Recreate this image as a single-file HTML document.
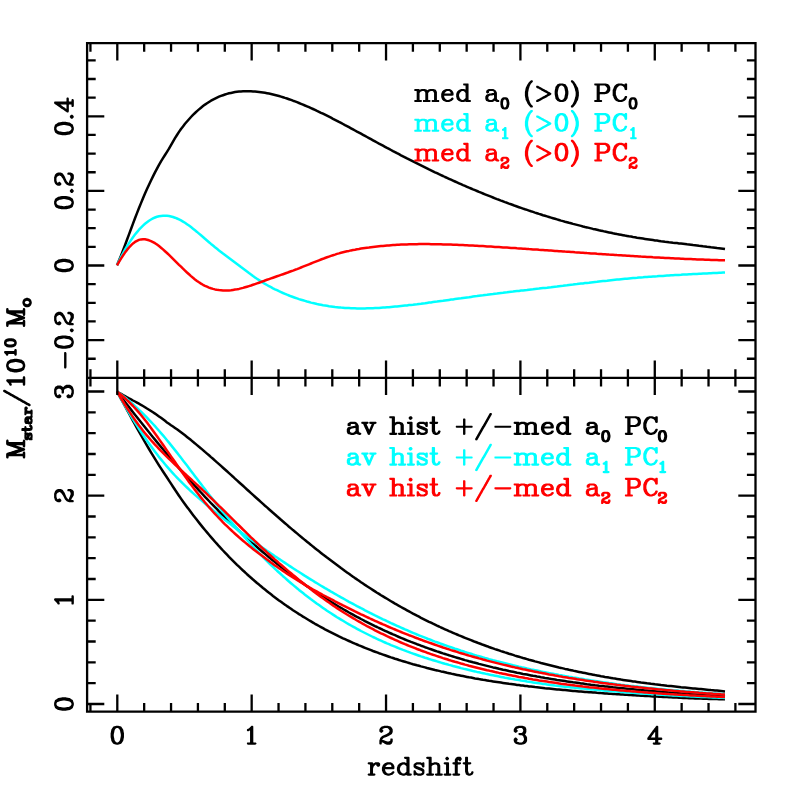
<!DOCTYPE html>
<html><head><meta charset="utf-8"><title>chart</title>
<style>html,body{margin:0;padding:0;background:#fff;font-family:"Liberation Sans",sans-serif}svg{display:block}</style>
</head><body>
<svg width="797" height="797" viewBox="0 0 797 797">
<rect width="797" height="797" fill="#fff"/>
<defs><path id="t0" d="M72.62,-10.25 72.50,-10 72.50,-8.25 72.75,-7.88 73.38,-7.75 73.50,-7.62 74.25,-7.62 74.38,-7.75 75,-7.88 75.38,-8.50 75.38,-9.50 75.88,-9.88 78.88,-9.88 79.88,-9.38 80.38,-8.88 80.38,-8.50 79.75,-8 79.12,-8 79,-7.88 78.38,-7.88 78.25,-7.75 77.62,-7.75 77.50,-7.62 75.38,-7.38 75.25,-7.25 73.12,-6.62 72.50,-6.12 72,-5 71.62,-4.50 71.62,-1.88 72.50,-0.12 72.75,0.12 74.75,0.75 74.88,0.88 75.12,0.88 75.25,1 75.62,1 75.75,1.12 78.38,1.12 78.50,1 78.88,1 80.38,0.25 80.88,-0.25 81.12,-0.25 81.38,0.12 83.12,1 83.50,1 83.62,1.12 84.50,1.12 84.62,1 85,1 85.38,0.75 85.62,0.25 85.62,-0.25 85.38,-0.75 85,-1 84.38,-1 83.75,-1.62 83.25,-2.62 83.25,-8.25 82.25,-10.25 81.38,-11.12 79.62,-12 75.12,-12 73.62,-11.25ZM80.38,-5.62 80.38,-3 78.88,-1.50 77.88,-1 76.25,-1 75.25,-1.50 75,-1.75 74.62,-2.50 74.62,-3.75 75,-4.50 75.38,-4.88 76.62,-5.38 77.25,-5.38 77.38,-5.50 78,-5.50 78.12,-5.62 78.75,-5.62 78.88,-5.75 79.50,-5.75 79.62,-5.88 80.12,-5.88ZM32.38,-12 30,-11.12 28.38,-9.50 27.50,-7.12 27.50,-4 28.38,-1.62 29.88,-0.12 30,0.12 32,0.75 32.12,0.88 32.38,0.88 32.50,1 32.88,1 33,1.12 34.88,1.12 35,1 35.38,1 35.50,0.88 35.75,0.88 35.88,0.75 37.88,0.12 39.62,-1.62 39.88,-2.12 39.88,-2.62 39.62,-3.12 39.25,-3.38 38.25,-3.38 38,-3.25 36.50,-1.75 34.50,-1.12 34.38,-1 33.62,-1 32.38,-1.62 31,-3 30.38,-5 30.62,-5.25 38.75,-5.25 38.88,-5.38 39.25,-5.38 39.62,-5.62 39.88,-6.12 39.88,-8.12 38.88,-10.12 37.88,-11.12 36.12,-12ZM30.88,-7.88 32.50,-9.50 33.25,-9.88 35.38,-9.88 36.12,-9.50 36.50,-9.12 36.88,-8.38 36.88,-7.62 36.62,-7.38 31,-7.38 30.88,-7.50ZM0.75,-11.75 0.62,-11.50 0.62,-10.50 0.88,-10.12 1.50,-10 1.62,-9.88 2.75,-9.88 3,-9.62 3,-1.25 2.75,-1 1.12,-1 0.75,-0.75 0.62,-0.50 0.62,0.50 0.75,0.75 1.12,1 1.50,1 1.62,1.12 7.12,1.12 7.25,1 7.62,1 8,0.75 8.25,0.25 8.25,-0.25 7.88,-0.88 7.62,-1 6.12,-1 5.88,-1.25 5.88,-8.12 7.12,-9.38 7.38,-9.38 8.62,-9.88 10.12,-9.88 10.88,-9.50 11.12,-9.25 11.62,-8.25 11.62,-1.25 11.38,-1 9.75,-1 9.50,-0.88 9.25,-0.50 9.25,0.50 9.50,0.88 10.12,1 10.25,1.12 15.75,1.12 15.88,1 16.25,1 16.62,0.75 16.88,0.25 16.88,-0.25 16.50,-0.88 16.25,-1 14.75,-1 14.50,-1.25 14.50,-8.12 15.75,-9.38 16,-9.38 17.25,-9.88 18.88,-9.88 19.62,-9.50 20.38,-8.12 20.38,-1.25 20.12,-1 18.50,-1 18.25,-0.88 18,-0.50 18,0.50 18.12,0.75 18.50,1 18.88,1 19,1.12 24.50,1.12 24.62,1 25.25,0.88 25.62,0.25 25.62,-0.25 25.25,-0.88 25,-1 23.50,-1 23.25,-1.25 23.25,-9 22.25,-11 21.62,-11.38 21.38,-11.38 19.75,-12 16.62,-12 16.50,-11.88 14.75,-11.38 13.75,-10.75 13.38,-11.12 12.88,-11.38 12.62,-11.38 11,-12 8,-12 6,-11.25 5.62,-11.75 5.25,-12 1.12,-12ZM50,-17.62 49.75,-17.50 49.50,-17.12 49.50,-16.12 49.62,-15.88 50,-15.62 50.38,-15.62 50.50,-15.50 51.62,-15.50 51.88,-15.25 51.88,-11.50 51.75,-11.38 51.50,-11.38 50.38,-12 47.50,-12 45.12,-11.12 43.62,-9.62 43.38,-9.50 42.50,-7.12 42.50,-4 42.62,-3.88 43.12,-2.12 43.38,-1.62 45.12,0.12 47.12,0.75 47.25,0.88 47.50,0.88 47.62,1 48,1 48.12,1.12 49.88,1.12 50,1 50.38,1 51.50,0.38 51.75,0.38 52.12,0.88 52.75,1 52.88,1.12 56.12,1.12 56.25,1 56.62,1 57,0.75 57.25,0.25 57.25,-0.25 57,-0.75 56.62,-1 55.12,-1 54.88,-1.25 54.88,-16.88 54.62,-17.38 54.25,-17.62ZM48.25,-9.88 49.62,-9.88 50.62,-9.38 51.88,-8.12 51.88,-3 50.38,-1.50 49.38,-1 48.62,-1 47.38,-1.62 46,-3 46,-3.25 45.38,-4.88 45.38,-6.25 45.50,-6.38 46,-8 47.50,-9.50Z"/><path id="t1" d="M3.75,-11.25 2.38,-10.75 1.88,-10.25 0.88,-8.75 0.88,-8.25 0.75,-8.12 0.75,-7.62 0.62,-7.50 0.62,-7 0.50,-6.88 0.50,-3.50 0.62,-3.38 0.88,-1.62 1.88,0 2.25,0.38 4.25,1.12 5.50,1.12 5.62,1 6,1 7.62,0.38 8.75,-1.25 9,-1.75 9.12,-2.75 9.25,-2.88 9.25,-3.38 9.38,-3.50 9.38,-4 9.50,-4.12 9.50,-6.12 9.38,-6.25 9.38,-6.75 9.25,-6.88 9,-8.62 7.88,-10.38 7.50,-10.75 6.12,-11.25ZM4.50,-9.12 5.25,-9.12 6,-8.50 6.50,-7.38 6.50,-6.88 6.62,-6.75 6.62,-6.25 6.75,-6.12 6.75,-5.62 6.88,-5.50 6.88,-4.88 6.75,-4.75 6.75,-4.25 6.62,-4.12 6.62,-3.62 6.50,-3.50 6.38,-2.50 6,-1.75 5.50,-1.25 5,-1 4.50,-1.12 3.75,-1.88 3.50,-2.38 3.38,-3.38 3.25,-3.50 3.25,-4 3.12,-4.12 3.12,-6.12 3.25,-6.25 3.25,-6.75 3.38,-6.88 3.50,-7.88 3.88,-8.62Z"/><path id="t2" d="M13.50,-15 13.38,-14.75 13.38,-13.75 13.75,-13.25 14.88,-12.62 15.12,-12.62 15.38,-12.38 16.25,-12 16.50,-11.75 18.25,-10.88 18.50,-10.62 20.25,-9.75 20.50,-9.50 22.38,-8.62 23.50,-7.88 24.38,-7.50 24.75,-7.12 24.62,-6.88 24,-6.62 22.88,-5.88 22,-5.50 21.50,-5.12 21,-5 20.75,-4.75 19.88,-4.38 19.62,-4.12 17.88,-3.25 17.62,-3 15.88,-2.12 15.62,-1.88 13.75,-1 13.38,-0.50 13.38,0.50 13.62,0.88 14.25,1 14.38,1.12 15.12,1 18.50,-0.75 18.75,-1 20.50,-1.88 21.62,-2.62 24.62,-4.12 24.88,-4.38 26.62,-5.25 26.88,-5.50 27.50,-5.75 28.38,-6.38 28.62,-6.88 28.62,-7.38 28.12,-8.12 27.25,-8.50 27,-8.75 25.25,-9.62 24.12,-10.38 23.25,-10.75 22.75,-11.12 22.25,-11.25 22,-11.50 21.12,-11.88 20.88,-12.12 19.12,-13 18,-13.75 17.12,-14.12 16.62,-14.50 16.12,-14.62 15.88,-14.88 15.12,-15.25 13.88,-15.25ZM103.75,-17.62 102.50,-17.62 102.12,-17.38 101.75,-16.62 99,-17.62 96,-17.62 95.88,-17.50 95.62,-17.50 95.50,-17.38 93.50,-16.75 91.62,-14.88 90.75,-13.12 90.38,-11.75 90.12,-11.50 89.88,-10.88 89.88,-5.75 90.12,-5.12 90.38,-4.88 90.75,-3.50 91.62,-1.75 93.25,-0.12 93.38,0.12 95.38,0.75 95.50,0.88 95.75,0.88 95.88,1 96.25,1 96.38,1.12 98.62,1.12 98.75,1 99.12,1 99.25,0.88 99.50,0.88 99.62,0.75 101.62,0.12 103.38,-1.62 103.62,-2.12 103.62,-2.38 104.38,-3.75 104.38,-4.25 104.12,-4.75 103.75,-5 102.50,-5 102,-4.62 101.25,-3 100,-1.75 99.75,-1.62 99.50,-1.62 97.88,-1 97.25,-1 96,-1.62 94.50,-3.12 93.88,-4.38 93.88,-4.62 93.12,-6.62 93.12,-10 93.25,-10.12 93.88,-12.25 94.38,-13.25 96.12,-15 97.12,-15.50 98.12,-15.50 98.25,-15.38 99.88,-14.88 101.38,-13.38 101.88,-11.62 102.25,-11 102.88,-10.88 103,-10.75 104,-11 104.38,-11.62 104.38,-16.88 104.12,-17.38ZM72,-17.62 71.75,-17.50 71.50,-17.12 71.50,-16.12 71.62,-15.88 72,-15.62 72.38,-15.62 72.50,-15.50 73.62,-15.50 73.88,-15.25 73.88,-1.25 73.62,-1 72,-1 71.75,-0.88 71.50,-0.50 71.50,0.50 71.75,0.88 72.38,1 72.50,1.12 78.25,1.12 78.38,1 78.75,1 79.12,0.75 79.38,0.25 79.38,-0.25 79.12,-0.75 78.75,-1 77.25,-1 77,-1.25 77,-6.50 77.25,-6.75 82.38,-6.75 82.50,-6.88 82.88,-6.88 83,-7 83.25,-7 83.38,-7.12 85.38,-7.75 86.62,-8.88 87.50,-10.62 87.50,-13.75 86.50,-15.75 86,-16.25 85.12,-16.88 84.88,-16.88 82.88,-17.62ZM77,-15.25 77.25,-15.50 81.88,-15.50 82.62,-15.12 83.75,-14 83.88,-13.62 84.38,-13 84.38,-11.50 83.88,-10.88 83.62,-10.25 83,-9.62 81.62,-8.88 77.25,-8.88 77,-9.12ZM37.25,-17.62 37.12,-17.50 36.88,-17.50 36.75,-17.38 34.75,-16.75 34.38,-16.38 33.88,-15.50 33.50,-15.25 32.62,-13.88 32.62,-13.38 32.50,-13.25 32.50,-12.75 32.38,-12.62 32.38,-12.12 32.25,-12 32.25,-11.50 32.12,-11.38 32.12,-10.88 32,-10.75 32,-10.25 31.88,-10.12 31.88,-6.50 32,-6.38 32,-5.88 32.12,-5.75 32.12,-5.25 32.25,-5.12 32.25,-4.62 32.38,-4.50 32.38,-4 32.50,-3.88 32.50,-3.38 32.62,-3.25 32.62,-2.62 33.50,-1.25 33.88,-1 34.62,0.12 36.62,0.75 36.75,0.88 37,0.88 37.12,1 37.50,1 37.62,1.12 39.75,1.12 39.88,1 40.25,1 40.38,0.88 42.88,0.12 44.50,-2.25 44.88,-3.12 44.88,-3.62 45,-3.75 45,-4.25 45.12,-4.38 45.12,-4.88 45.25,-5 45.25,-5.50 45.38,-5.62 45.38,-6.12 45.50,-6.25 45.50,-6.75 45.62,-6.88 45.62,-9.75 45.38,-10.38 45.38,-10.88 45.25,-11 45.25,-11.50 45.12,-11.62 45.12,-12.12 45,-12.25 45,-12.75 44.88,-12.88 44.75,-13.75 42.75,-16.75 41.75,-17.12 41.38,-17.12 40.12,-17.62ZM38.25,-15.50 39.12,-15.50 40.12,-15 41.12,-14 41.62,-13 41.75,-12 41.88,-11.88 41.88,-11.38 42,-11.25 42,-10.75 42.12,-10.62 42.12,-10.12 42.25,-10 42.25,-9.50 42.38,-9.38 42.38,-7.25 42.25,-7.12 42.25,-6.62 42.12,-6.50 42.12,-6 42,-5.88 42,-5.38 41.88,-5.25 41.88,-4.75 41.75,-4.62 41.62,-3.62 41,-2.38 40.25,-1.62 39,-1 38.38,-1 37.38,-1.50 36.38,-2.50 35.62,-4.25 35.62,-4.75 35.50,-4.88 35.50,-5.38 35.38,-5.50 35.38,-6 35.25,-6.12 35.25,-6.62 35.12,-6.75 35.12,-7.25 35,-7.38 35,-9.12 35.12,-9.25 35.12,-9.75 35.25,-9.88 35.25,-10.38 35.38,-10.50 35.38,-11 35.50,-11.12 35.50,-11.62 35.62,-11.75 35.75,-12.62 36.50,-14.25 37.25,-15ZM48.62,-20.75 48.38,-20.62 48.12,-20.25 48.12,-19.25 48.25,-19 49.75,-17.50 51.25,-14.50 51.25,-14.25 52.12,-11.88 52.25,-10.75 52.62,-10 52.62,-9.50 52.75,-9.38 52.75,-8.88 52.88,-8.75 52.88,-5.50 52.75,-5.38 52.62,-4.25 52.25,-3.50 52.12,-2.38 52,-2.25 51.25,0.25 49.75,3.25 48.25,4.75 48.12,5 48.12,6 48.25,6.25 48.62,6.50 49.38,6.62 49.50,6.50 50.12,6.38 51.88,4.62 53.38,2.38 54.25,0.38 54.62,0 54.88,-0.62 55.38,-1.38 55.38,-1.88 55.50,-2 55.50,-2.50 55.62,-2.62 55.62,-3.12 55.75,-3.25 55.75,-3.75 55.88,-3.88 55.88,-4.38 56,-4.50 56,-5 56.12,-5.12 56.12,-9 56,-9.12 56,-9.62 55.88,-9.75 55.88,-10.25 55.75,-10.38 55.75,-10.88 55.62,-11 55.38,-12.75 54.62,-14.25 54.25,-14.62 53.38,-16.50 51.88,-18.62 51.75,-19 50.12,-20.62 49.88,-20.75ZM8.25,-20.75 8,-20.62 6.12,-18.75 4.62,-16.50 2.88,-13 2.88,-12.50 2.75,-12.38 2.75,-11.88 2.62,-11.75 2.62,-11.25 2.50,-11.12 2.50,-10.62 2.38,-10.50 2.38,-10 2.25,-9.88 2.25,-9.38 2.12,-9.25 2.12,-4.88 2.25,-4.75 2.25,-4.25 2.38,-4.12 2.38,-3.62 2.50,-3.50 2.50,-3 2.62,-2.88 2.88,-1.12 3.25,-0.62 4.50,1.88 4.62,2.38 6.12,4.62 7.88,6.38 8.50,6.50 8.62,6.62 9,6.62 9.12,6.50 9.50,6.50 9.88,6.25 10.12,5.75 10.12,5.25 9.88,4.75 9.62,4.62 8.25,3.25 6.88,0.50 6.88,0.25 6,-2.12 6,-2.62 5.88,-2.75 5.88,-3.25 5.75,-3.38 5.75,-3.88 5.62,-4 5.62,-4.50 5.50,-4.62 5.50,-5.12 5.38,-5.25 5.38,-8.88 5.50,-9 5.50,-9.50 5.62,-9.62 5.62,-10.12 5.75,-10.25 5.75,-10.75 5.88,-10.88 5.88,-11.38 6,-11.50 6.12,-12.50 6.25,-12.62 6.88,-14.75 8.12,-17.25 9.88,-19 10.12,-19.50 10.12,-20 9.75,-20.62 9.50,-20.75Z"/><path id="t3" d="M4.88,-11.25 4.62,-11.12 3.25,-9.75 2.25,-9.25 2,-8.88 2,-7.88 2.25,-7.50 2.88,-7.38 3,-7.25 3.25,-7.38 3.75,-7.38 3.88,-7.25 3.88,-1.25 3.62,-1 2.50,-1 2.25,-0.88 2,-0.50 2,0.50 2.25,0.88 2.88,1 3,1.12 7.38,1.12 7.50,1 7.88,1 8.25,0.75 8.50,0.25 8.50,-0.25 8.12,-0.88 7.88,-1 6.75,-1 6.50,-1.25 6.50,-10.50 6.25,-11 5.88,-11.25Z"/><path id="t4" d="M2.12,-10.88 1,-9.88 0.50,-8.88 0.50,-7.38 1.25,-6.50 1.50,-6.38 2.50,-6.38 2.75,-6.50 3.38,-7.12 3.62,-7.62 3.62,-8.12 3.38,-8.50 3.38,-8.88 3.88,-9.12 5.75,-9.12 6,-9 6.50,-8.50 6.75,-8 6.75,-7.62 6.12,-6.88 5.38,-6.38 2.38,-4.88 1,-3.62 0.50,-2.25 0.50,0.50 0.62,0.75 1,1 2,1 2.38,0.75 2.62,0.25 2.62,0 2.88,-0.25 4.88,1 5.25,1 5.38,1.12 7.38,1.12 7.50,1 7.88,1 8.75,0.25 9.50,-1.25 9.50,-2.75 9.12,-3.38 8.88,-3.50 7.88,-3.50 7.62,-3.38 7.38,-3 7.38,-2.12 7,-1.75 6.50,-1.50 5.88,-1.50 4.50,-2.12 4.25,-2.12 3.88,-2.38 3.62,-2.38 3.50,-2.50 3.50,-2.75 3.88,-3.12 5.12,-3.75 5.38,-3.75 5.75,-4 6.62,-4.25 8.50,-5.38 8.75,-5.62 9.50,-7.12 9.50,-8.62 9,-9.38 8.75,-10 8,-10.75 6.62,-11.25 3.25,-11.25 3.12,-11.12Z"/><path id="t5" d="M148.88,-7.62 148.88,-6.62 149,-6.38 149.38,-6.12 149.75,-6.12 149.88,-6 164.62,-6 164.75,-6.12 165.38,-6.25 165.75,-6.88 165.75,-7.38 165.50,-7.88 165.12,-8.12 149.38,-8.12 149.12,-8ZM241.25,-10.25 241.12,-10 241.12,-8.25 241.38,-7.88 242,-7.75 242.12,-7.62 243.12,-7.62 243.25,-7.75 243.88,-7.88 244.25,-8.50 244.25,-9.50 244.75,-9.88 247.62,-9.88 248.62,-9.38 249.12,-8.88 249.12,-8.50 248.50,-8 247.88,-8 247.75,-7.88 247.12,-7.88 247,-7.75 246.38,-7.75 246.25,-7.62 245.50,-7.62 245.38,-7.50 244,-7.38 243.88,-7.25 241.75,-6.62 241.12,-6.12 240.62,-5 240.25,-4.50 240.25,-1.88 241.12,-0.12 241.38,0.12 243.38,0.75 243.50,0.88 243.75,0.88 243.88,1 244.25,1 244.38,1.12 247.38,1.12 247.50,1 247.88,1 249.38,0.25 249.75,-0.12 251.88,1 252.25,1 252.38,1.12 253.50,1.12 253.62,1 254,1 254.38,0.75 254.62,0.25 254.62,-0.25 254.38,-0.75 254,-1 253.25,-1 252.88,-1.38 252.25,-2.62 252.25,-8.25 251.25,-10.25 250.38,-11.12 248.62,-12 243.75,-12 242.25,-11.25ZM249.12,-5.62 249.12,-3 247.62,-1.50 246.62,-1 245.12,-1 244.12,-1.50 243.88,-1.75 243.50,-2.50 243.50,-3.88 244,-4.75 245,-5.25 245.38,-5.25 245.50,-5.38 247,-5.50 247.12,-5.62 247.75,-5.62 247.88,-5.75 248.50,-5.75 248.62,-5.88 248.88,-5.88ZM198,-11.12 196.25,-9.38 195.62,-7.38 195.50,-7.25 195.50,-7 195.38,-6.88 195.38,-4.25 195.50,-4.12 195.50,-3.88 195.62,-3.75 196.25,-1.75 197.88,-0.12 198,0.12 200,0.75 200.12,0.88 200.38,0.88 200.50,1 200.88,1 201,1.12 203.12,1.12 203.25,1 203.62,1 203.75,0.88 206.25,0.12 208,-1.62 208.25,-2.12 208.25,-2.62 207.88,-3.25 207.62,-3.38 206.38,-3.38 206.12,-3.25 204.62,-1.75 204,-1.50 203.62,-1.50 202.38,-1 201.88,-1 200.62,-1.62 199.25,-3 198.62,-5 198.88,-5.25 207.12,-5.25 207.25,-5.38 207.88,-5.50 208.25,-6.12 208.25,-8.12 207.25,-10.12 206.25,-11.12 205.50,-11.50 205.25,-11.50 204.38,-12 200.38,-12ZM199.12,-7.88 200.75,-9.50 201.50,-9.88 203.38,-9.88 203.75,-9.62 204,-9.62 204.50,-9.25 205,-8.25 205,-7.62 204.75,-7.38 199.25,-7.38 199.12,-7.50ZM168.12,-11.50 168.12,-10.50 168.38,-10.12 169,-10 169.12,-9.88 170.25,-9.88 170.50,-9.62 170.50,-1.25 170.25,-1 168.62,-1 168.25,-0.75 168.12,-0.50 168.12,0.50 168.25,0.75 168.62,1 169,1 169.12,1.12 175,1.12 175.12,1 175.50,1 175.88,0.75 176.12,0.25 176.12,-0.25 175.75,-0.88 175.50,-1 174,-1 173.75,-1.25 173.75,-8.25 174.88,-9.38 175.12,-9.38 176.38,-9.88 177.75,-9.88 178.75,-9.38 179.38,-8.25 179.38,-1.25 179.12,-1 177.38,-1 177.12,-0.88 176.88,-0.50 176.88,0.50 177.12,0.88 177.75,1 177.88,1.12 183.75,1.12 183.88,1 184.25,1 184.62,0.75 184.88,0.25 184.88,-0.25 184.50,-0.88 184.25,-1 182.75,-1 182.50,-1.25 182.50,-8.12 183.75,-9.38 184,-9.38 185.25,-9.88 186.62,-9.88 187.25,-9.50 187.50,-9.50 188.25,-8.12 188.25,-1.25 188,-1 186.25,-1 186,-0.88 185.75,-0.50 185.75,0.50 185.88,0.75 186.25,1 186.62,1 186.75,1.12 192.62,1.12 192.75,1 193.38,0.88 193.75,0.25 193.75,-0.25 193.38,-0.88 193.12,-1 191.62,-1 191.38,-1.25 191.38,-9 190.38,-11 189.75,-11.38 189.50,-11.38 189,-11.62 188.62,-11.62 187.75,-12 184.38,-12 184.25,-11.88 182.50,-11.38 181.75,-10.88 180.88,-11.38 180.12,-11.50 178.88,-12 175.50,-12 173.75,-11.38 173.50,-11.75 173.12,-12 168.62,-12 168.38,-11.88ZM72.25,-11.25 71.12,-10 71.12,-7.38 71.25,-7.12 72.25,-6.12 73.75,-5.38 74,-5.38 74.38,-5.12 74.62,-5.12 75,-4.88 75.25,-4.88 75.62,-4.62 75.88,-4.62 76.25,-4.38 77.12,-4.12 78.50,-3.38 78.75,-3.38 79.50,-3 79.88,-2.62 79.88,-2.25 79.12,-1.50 78.62,-1.38 78,-1 75.88,-1 74.88,-1.50 73.88,-2.50 73.12,-4 72.88,-4.12 71.62,-4.12 71.38,-4 71.12,-3.62 71.12,0.50 71.25,0.75 71.62,1 72.38,1.12 72.50,1 73.12,0.88 73.38,0.50 73.75,0.50 74.62,1 75,1 75.12,1.12 78.75,1.12 78.88,1 79.25,1 79.88,0.62 80.12,0.62 81.12,0.12 82,-0.88 82.25,-1.38 82.25,-4.25 82,-4.75 81.12,-5.62 80.12,-6.12 79.88,-6.12 78.75,-6.75 78.50,-6.75 78.12,-7 77.88,-7 77.50,-7.25 77.25,-7.25 76.88,-7.50 76.62,-7.50 76.25,-7.75 75.38,-8 74.12,-8.62 73.75,-9 73.75,-9.25 74,-9.50 74.75,-9.88 77.50,-9.88 78.75,-9.25 79.38,-8.62 80.12,-7 80.75,-6.88 80.88,-6.75 81.62,-6.88 82,-7.12 82.25,-7.62 82.25,-11.25 82,-11.75 81.62,-12 80.38,-12 80.12,-11.88 79.75,-11.38 79.62,-11.38 78.50,-12 73.75,-12ZM61.62,-11.88 61.38,-11.50 61.38,-10.50 61.50,-10.25 61.88,-10 62.25,-10 62.38,-9.88 63.62,-9.88 63.88,-9.62 63.88,-1.25 63.62,-1 61.88,-1 61.62,-0.88 61.38,-0.50 61.38,0.50 61.50,0.75 61.88,1 62.25,1 62.38,1.12 68.25,1.12 68.38,1 69,0.88 69.38,0.25 69.38,-0.25 69.12,-0.75 68.75,-1 67.25,-1 67,-1.25 67,-11.25 66.75,-11.75 66.38,-12 61.88,-12ZM16,-11.88 15.75,-11.50 15.75,-10.50 15.88,-10.25 16.25,-10 17.50,-9.88 18,-9 18,-8.75 18.38,-8.12 18.38,-7.88 18.75,-7.25 18.75,-7 19.12,-6.38 19.12,-6.12 19.50,-5.50 19.50,-5.25 20.38,-3.75 20.38,-3.50 20.75,-2.88 20.75,-2.62 21.12,-2 21.12,-1.75 21.50,-1.12 21.50,-0.88 21.88,-0.25 21.88,0 22.25,0.75 22.62,1 23,1 23.12,1.12 24.12,0.88 24.38,0.62 24.88,-0.38 24.88,-0.62 25.25,-1.25 25.25,-1.50 25.62,-2.12 25.62,-2.38 26,-3 26,-3.25 26.38,-3.88 26.38,-4.12 26.75,-4.75 26.75,-5 27.12,-5.62 27.12,-5.88 27.50,-6.50 27.50,-6.75 27.88,-7.38 27.88,-7.62 28.25,-8.25 28.25,-8.50 28.62,-9.12 28.75,-9.62 29,-9.88 29.88,-9.88 30,-10 30.38,-10 30.75,-10.25 31,-10.75 31,-11.25 30.75,-11.75 30.38,-12 24.25,-12 23.88,-11.75 23.75,-11.50 23.75,-10.50 24,-10.12 24.62,-10 24.75,-9.88 25.88,-9.88 26.12,-9.62 25.12,-7.50 25.12,-7.25 24.75,-6.62 24.75,-6.38 24.38,-5.75 24.38,-5.50 24,-4.88 24,-4.62 23.88,-4.38 23.62,-4.25 23.25,-4.75 23.25,-5 22.88,-5.62 22.88,-5.88 22.25,-7.12 22.25,-7.38 21.75,-8.12 21.12,-9.62 21.38,-9.88 22.38,-10 22.75,-10.25 23,-10.75 23,-11.25 22.75,-11.75 22.38,-12 16.25,-12ZM2.12,-10.25 2,-10 2,-8.25 2.25,-7.88 2.88,-7.75 3,-7.62 4.12,-7.62 4.25,-7.75 4.88,-7.88 5.25,-8.50 5.25,-9.50 5.88,-9.88 8.62,-9.88 9.38,-9.50 10,-8.88 10,-8.50 9.38,-8 8.75,-8 8.62,-7.88 8,-7.88 7.88,-7.75 7.25,-7.75 7.12,-7.62 5,-7.38 3.75,-6.88 3.38,-6.88 3.25,-6.75 2.62,-6.62 2.12,-6.25 1.25,-4.50 1.25,-1.75 2.25,0.12 3.25,0.50 3.62,0.50 4.88,1 5.25,1 5.38,1.12 8.25,1.12 8.38,1 8.75,1 10.50,0.12 10.75,-0.12 11.62,0.38 11.88,0.38 13,1 13.38,1 13.50,1.12 14.62,1.12 14.75,1 15.12,1 15.50,0.75 15.75,0.25 15.75,-0.25 15.50,-0.75 15.12,-1 14.38,-1 13.88,-1.50 13.62,-2.12 13.25,-2.50 13.25,-8.12 12.25,-10.12 11.12,-11.25 9.62,-12 4.88,-12 3.12,-11.12ZM10,-5.62 10,-3 8.50,-1.50 7.50,-1 6.25,-1 5,-1.62 4.75,-1.88 4.38,-2.62 4.38,-3.62 4.75,-4.38 5.12,-4.75 6.50,-5.38 7.12,-5.38 7.25,-5.50 7.88,-5.50 8,-5.62 8.62,-5.62 8.75,-5.75 9.38,-5.75 9.50,-5.88 9.75,-5.88ZM118,-15.25 117.75,-15.12 117.50,-14.75 117.50,-8.38 117.25,-8.12 110.75,-8.12 110.50,-8 110.25,-7.62 110.25,-6.62 110.50,-6.25 111.12,-6.12 111.25,-6 117.25,-6 117.50,-5.75 117.50,0.50 117.75,0.88 118.75,1.12 118.88,1 119.50,0.88 119.88,0.25 119.88,-5.75 120.12,-6 126,-6 126.12,-6.12 126.50,-6.12 126.88,-6.38 127.12,-6.88 127.12,-7.38 126.88,-7.88 126.50,-8.12 120.12,-8.12 119.88,-8.38 119.88,-14.50 119.62,-15 119.25,-15.25ZM218.25,-17.62 218,-17.50 217.75,-17.12 217.75,-16.12 217.88,-15.88 218.25,-15.62 218.62,-15.62 218.75,-15.50 219.88,-15.50 220.12,-15.25 220.12,-11.62 220,-11.50 219.75,-11.50 218.88,-12 215.62,-12 213.25,-11.12 211.38,-9.38 210.75,-7.38 210.62,-7.25 210.62,-7 210.50,-6.88 210.50,-4.25 210.62,-4.12 211.38,-1.75 212,-1.12 212.12,-1.12 213.25,0.12 215.25,0.75 215.38,0.88 215.62,0.88 215.75,1 216.12,1 216.25,1.12 218.38,1.12 218.50,1 218.88,1 219.75,0.50 220.12,0.50 220.38,0.88 221,1 221.12,1.12 224.75,1.12 224.88,1 225.25,1 225.62,0.75 225.88,0.25 225.88,-0.25 225.62,-0.75 225.25,-1 223.75,-1 223.50,-1.25 223.50,-16.88 223.25,-17.38 222.88,-17.62ZM216.75,-9.88 217.88,-9.88 218.88,-9.38 220.12,-8.12 220.12,-3 218.62,-1.50 217.62,-1 217.12,-1 215.88,-1.62 214.50,-3 214.38,-3.50 213.75,-4.75 213.75,-6.38 214.38,-7.62 214.38,-7.88 216,-9.50ZM86.75,-17.62 86.50,-17.50 86.25,-17.12 86.25,-12.25 86,-12 84.38,-12 84.12,-11.88 83.88,-11.50 83.88,-10.50 84,-10.25 84.38,-10 84.75,-10 84.88,-9.88 86,-9.88 86.25,-9.62 86.25,-2.50 86.38,-2.38 86.50,-1.75 86.88,-1.25 87.25,0 89.12,1 89.50,1 89.62,1.12 91.62,1.12 91.75,1 92.12,1 94,0 95,-2 95,-2.62 94.75,-3.12 94.38,-3.38 93.12,-3.38 92.75,-3.12 92.12,-1.75 91.88,-1.50 90.88,-1 90.62,-1 90.12,-1.50 90.12,-1.75 89.50,-3.38 89.50,-9.62 89.75,-9.88 91.50,-9.88 91.62,-10 92.25,-10.12 92.62,-10.75 92.62,-11.25 92.38,-11.75 92,-12 89.75,-12 89.50,-12.25 89.50,-16.88 89.25,-17.38 88.88,-17.62ZM64.38,-17.62 63.25,-16.62 63.12,-16.38 63.12,-15.25 64.12,-14.12 64.75,-14 64.88,-13.88 65.62,-14 66.75,-15 67,-15.50 67,-16.12 66.75,-16.62 65.88,-17.50 65.62,-17.62ZM44,-17.50 43.75,-17.12 43.75,-16.12 43.88,-15.88 44.25,-15.62 44.62,-15.62 44.75,-15.50 46,-15.50 46.25,-15.25 46.25,-1.25 46,-1 44.25,-1 44,-0.88 43.75,-0.50 43.75,0.50 43.88,0.75 44.25,1 44.62,1 44.75,1.12 50.62,1.12 50.75,1 51.12,1 51.50,0.75 51.75,0.25 51.75,-0.25 51.38,-0.88 51.12,-1 49.62,-1 49.38,-1.25 49.38,-8.12 50.62,-9.38 50.88,-9.38 52.12,-9.88 53.38,-9.88 54.25,-9.50 54.62,-9.12 55,-8.38 55,-1.25 54.75,-1 53,-1 52.75,-0.88 52.50,-0.50 52.50,0.50 52.62,0.75 53,1 53.38,1 53.50,1.12 59.50,1.12 59.62,1 60.25,0.88 60.62,0.25 60.62,-0.25 60.38,-0.75 60,-1 58.50,-1 58.25,-1.25 58.25,-9 57.75,-9.75 57.25,-10.88 56.50,-11.38 56.25,-11.38 55,-11.88 54.62,-11.88 54.50,-12 51.25,-12 49.62,-11.38 49.38,-11.62 49.38,-16.88 49.12,-17.38 48.75,-17.62 44.25,-17.62ZM146,-20.62 145.75,-20.75 144.50,-20.75 144,-20.38 142.62,-17.75 141.88,-16.62 141.50,-15.75 140.75,-14.62 140.38,-13.75 139.62,-12.62 139.25,-11.75 138.50,-10.62 138.12,-9.75 137.88,-9.50 137.12,-8 136.62,-7.50 135.75,-5.75 135.50,-5.50 134.62,-3.75 134.38,-3.50 133.50,-1.75 133.25,-1.50 132.38,0.25 132.12,0.50 131.25,2.25 131,2.50 130.12,4.25 129.88,4.50 129.62,5 129.62,6 129.88,6.38 130.50,6.50 130.62,6.62 131.38,6.50 131.62,6.38 132.12,5.75 132.50,4.88 133.25,3.75 133.62,2.88 134.38,1.75 134.75,0.88 135.50,-0.25 135.88,-1.12 136.62,-2.25 138.12,-5.12 138.38,-5.38 138.62,-6 139,-6.25 139.38,-7.12 139.62,-7.38 140.50,-9.12 141.25,-10.25 141.62,-11.12 142.38,-12.25 142.75,-13.12 143.50,-14.25 143.88,-15.12 144.62,-16.25 145,-17.12 145.75,-18.25 146.38,-19.50 146.38,-20Z"/><path id="t6" d="M3.75,-11.25 3.62,-11.12 3.25,-11.12 2.25,-10.75 1.75,-10.25 0.75,-8.75 0.75,-8.25 0.62,-8.12 0.62,-7.62 0.50,-7.50 0.50,-7 0.38,-6.88 0.38,-3.50 0.50,-3.38 0.75,-1.62 1.75,0 2.12,0.38 3.75,1 4.12,1 4.25,1.12 5.75,1.12 5.88,1 6.25,1 7.88,0.38 9,-1.25 9.25,-1.75 9.38,-2.75 9.50,-2.88 9.50,-3.38 9.62,-3.50 9.62,-4 9.75,-4.12 9.75,-6.12 9.62,-6.25 9.62,-6.75 9.50,-6.88 9.25,-8.62 8.12,-10.38 7.75,-10.75 6.38,-11.25ZM4.62,-9.12 5.25,-9.12 6,-8.50 6.50,-7.38 6.50,-6.88 6.62,-6.75 6.62,-6.25 6.75,-6.12 6.75,-5.62 6.88,-5.50 6.88,-4.88 6.75,-4.75 6.75,-4.25 6.62,-4.12 6.62,-3.62 6.50,-3.50 6.38,-2.50 6,-1.75 5.25,-1.12 4.62,-1.12 3.88,-1.88 3.62,-2.38 3.50,-3.38 3.38,-3.50 3.38,-4 3.25,-4.12 3.25,-6.12 3.38,-6.25 3.38,-6.75 3.50,-6.88 3.62,-7.88 4,-8.62Z"/><path id="t7" d="M32.75,-17.62 31.50,-17.62 31,-17.25 30.88,-16.88 30.62,-16.62 30.25,-16.88 29.88,-16.88 27.88,-17.62 25,-17.62 24.88,-17.50 24.62,-17.50 24.50,-17.38 22.50,-16.75 20.62,-14.88 20.12,-13.75 19.62,-13.12 19.62,-12.88 18.88,-10.88 18.88,-5.75 19,-5.62 19.62,-3.50 20.12,-2.88 20.62,-1.75 22.25,-0.12 22.38,0.12 24.38,0.75 24.50,0.88 24.75,0.88 24.88,1 25.25,1 25.38,1.12 27.50,1.12 27.62,1 28,1 28.12,0.88 30.62,0.12 30.75,-0.12 32.38,-1.75 33.38,-3.75 33.38,-4.25 33.12,-4.75 32.75,-5 31.50,-5 31,-4.62 30.38,-3.25 28.75,-1.62 28.38,-1.62 26.75,-1 26.25,-1 25,-1.62 23.50,-3.12 22.88,-4.38 22.25,-6.50 22,-6.88 22,-9.75 22.25,-10.12 22.25,-10.38 23.25,-13.12 25.12,-15 26.12,-15.50 27,-15.50 27.12,-15.38 28.88,-14.88 30.25,-13.50 30.88,-11.50 31.25,-11 31.88,-10.88 32,-10.75 33,-11 33.38,-11.62 33.38,-16.88 33.12,-17.38ZM1,-17.62 0.75,-17.50 0.50,-17.12 0.50,-16.12 0.62,-15.88 1,-15.62 1.38,-15.62 1.50,-15.50 2.62,-15.50 2.88,-15.25 2.88,-1.25 2.62,-1 1,-1 0.75,-0.88 0.50,-0.50 0.50,0.50 0.75,0.88 1.38,1 1.50,1.12 7.38,1.12 7.50,1 7.88,1 8.25,0.75 8.50,0.25 8.50,-0.25 8.25,-0.75 7.88,-1 6.38,-1 6.12,-1.25 6.12,-6.50 6.38,-6.75 11.25,-6.75 11.38,-6.88 11.75,-6.88 11.88,-7 12.12,-7 13,-7.38 13.38,-7.38 14.62,-7.88 15.62,-8.88 16.50,-10.62 16.50,-13.75 15.50,-15.75 14.38,-16.75 13.38,-17.12 13,-17.12 11.75,-17.62ZM6.12,-15.25 6.38,-15.50 10.75,-15.50 11.62,-15 11.88,-15 12.75,-14.12 13.38,-12.88 13.38,-11.50 12.88,-10.50 11.88,-9.50 11.62,-9.50 10.50,-8.88 6.38,-8.88 6.12,-9.12Z"/><path id="t8" d="M4.88,-11.25 4.62,-11.12 3.38,-9.88 2.12,-9.25 1.88,-8.88 1.88,-7.88 2.12,-7.50 2.75,-7.38 2.88,-7.25 3.62,-7.38 3.88,-7.12 3.88,-1.25 3.62,-1 2.38,-1 2.12,-0.88 1.88,-0.50 1.88,0.50 2.12,0.88 2.75,1 2.88,1.12 7.62,1.12 7.75,1 8.12,1 8.50,0.75 8.75,0.25 8.75,-0.25 8.38,-0.88 8.12,-1 7,-1 6.75,-1.25 6.75,-10.50 6.50,-11 6.12,-11.25Z"/><path id="t9" d="M1.75,-10.75 0.88,-9.88 0.38,-8.88 0.38,-7.38 1.12,-6.50 1.75,-6.38 1.88,-6.25 2.88,-6.50 3.50,-7.12 3.75,-7.62 3.75,-8.12 3.50,-8.50 3.50,-8.88 4,-9.12 5.75,-9.12 6,-9 6.50,-8.50 6.75,-8 6.75,-7.62 6.12,-6.88 5.38,-6.38 3.62,-5.50 3.38,-5.50 2.88,-5.12 2.25,-4.88 0.88,-3.62 0.38,-2.25 0.38,0.50 0.50,0.75 0.88,1 1.25,1 1.38,1.12 2.12,1 2.50,0.75 2.75,0.12 3,-0.12 4.38,0.62 4.62,0.88 5.25,1 5.38,1.12 7.62,1.12 7.75,1 8.38,0.88 9,0.25 9.75,-1.25 9.75,-2.75 9.38,-3.38 9.12,-3.50 7.88,-3.50 7.62,-3.38 7.38,-3 7.38,-2.12 7,-1.75 6.50,-1.50 6.12,-1.50 5.38,-1.88 3.75,-2.38 3.62,-2.50 3.62,-2.75 4,-3.12 4.75,-3.50 5,-3.50 5.38,-3.75 5.62,-3.75 6,-4 6.25,-4 7.62,-4.62 9,-5.62 9.75,-7.12 9.75,-8.62 9.50,-9.12 9.25,-9.38 9,-10 8.25,-10.75 6.88,-11.25 3.12,-11.25Z"/><path id="t10" d="M6.62,-17.75 6.50,-17.62 6.25,-17.62 6.12,-17.50 4.12,-16.88 3.50,-16.25 2,-14 1.88,-13 1.75,-12.88 1.75,-12.38 1.62,-12.25 1.62,-11.75 1.50,-11.62 1.50,-11.12 1.38,-11 1.38,-10.50 1.25,-10.38 1.25,-6.25 1.38,-6.12 1.38,-5.62 1.50,-5.50 1.50,-5 1.62,-4.88 1.62,-4.38 1.75,-4.25 2,-2.50 3.50,-0.25 4,0.25 6,0.88 6.12,1 6.38,1 6.50,1.12 6.88,1.12 7,1.25 8.88,1.25 9,1.12 9.38,1.12 11.75,0.25 12.38,-0.38 13.88,-2.75 14,-3.62 14.12,-3.75 14.12,-4.25 14.25,-4.38 14.25,-4.88 14.38,-5 14.38,-5.50 14.50,-5.62 14.50,-6.12 14.62,-6.25 14.62,-10.38 14.50,-10.50 14.50,-11 14.38,-11.12 14.38,-11.62 14.25,-11.75 14,-13.50 13.62,-14.25 12.12,-16.50 11.75,-16.88 9.75,-17.50 9.62,-17.62 9.38,-17.62 9.25,-17.75ZM7.38,-15.38 8.50,-15.38 9.25,-15 10,-14.25 10.75,-12.75 10.88,-11.75 11,-11.62 11,-11.12 11.12,-11 11.12,-10.50 11.25,-10.38 11.25,-9.88 11.38,-9.75 11.38,-9.25 11.50,-9.12 11.50,-7.38 11.38,-7.25 11.38,-6.75 11.25,-6.62 11.25,-6.12 11.12,-6 11.12,-5.50 11,-5.38 11,-4.88 10.88,-4.75 10.75,-3.75 10.12,-2.50 9.12,-1.50 8.38,-1.12 7.50,-1.12 6.50,-1.62 5.75,-2.38 5.12,-3.62 5.12,-4.12 5,-4.25 5,-4.75 4.88,-4.88 4.88,-5.38 4.75,-5.50 4.75,-6 4.62,-6.12 4.62,-6.62 4.50,-6.75 4.50,-7.25 4.38,-7.38 4.38,-9.12 4.50,-9.25 4.50,-9.75 4.62,-9.88 4.62,-10.38 4.75,-10.50 4.75,-11 4.88,-11.12 4.88,-11.62 5,-11.75 5,-12.25 5.12,-12.38 5.25,-13.25 5.75,-14.25 6.38,-14.88Z"/><path id="t11" d="M8.25,-17.75 8,-17.62 5.50,-15.12 4.12,-14.50 3.62,-14 3.62,-12.75 4.25,-12.25 5.25,-12.25 6.38,-12.88 6.62,-12.88 6.75,-12.75 6.75,-1.38 6.50,-1.12 4.25,-1.12 4,-1 3.62,-0.62 3.62,0.62 4,1 4.62,1.12 4.75,1.25 11.88,1.25 12,1.12 12.62,1 13,0.62 13.12,0.38 13.12,-0.38 13,-0.62 12.38,-1.12 10.25,-1.12 10,-1.38 10,-17 9.88,-17.25 9.25,-17.75Z"/><path id="t12" d="M3.62,-17 2,-15.62 1.25,-14.12 1.25,-12 2.38,-10.88 3,-10.75 3.12,-10.62 4,-10.88 5.12,-12 5.25,-12.25 5.25,-13 5.12,-13.25 4.25,-14 4.25,-14.25 4.75,-14.75 6.38,-15.25 6.50,-15.38 9.25,-15.38 10,-15 10.88,-14.12 11.50,-12.88 11.50,-12.38 10.75,-11 8.50,-9.50 4,-7.38 2,-5.38 2,-5.12 1.25,-3.12 1.25,0.62 1.88,1.12 2.88,1.12 3.12,1 3.62,0.38 3.62,-0.88 3.88,-1.12 4.50,-1.12 4.75,-0.88 5.12,-0.75 5.38,-0.50 5.75,-0.38 6,-0.12 6.38,0 6.62,0.25 7,0.38 8.12,1.12 8.50,1.12 8.62,1.25 11.88,1.25 12,1.12 12.38,1.12 12.62,1 13.75,-0.12 14.62,-1.88 14.62,-4.38 14.12,-5 13.88,-5.12 12.88,-5.12 12.62,-5 12.25,-4.62 12.25,-3 11.75,-2.50 10.50,-1.88 9.25,-1.88 7.88,-2.50 7.62,-2.50 7.25,-2.75 7,-2.75 6.62,-3 6.38,-3 6,-3.25 5.75,-3.25 5.38,-3.50 4.38,-3.50 4.25,-3.62 4.25,-4 4.38,-4.25 5.50,-5.38 6.75,-6 7.38,-6.12 7.75,-6.38 8,-6.38 8.38,-6.62 8.62,-6.62 9,-6.88 9.25,-6.88 9.62,-7.12 10.50,-7.38 13.38,-9.25 13.75,-9.62 14.62,-11.38 14.62,-14 13.88,-15.50 12.50,-16.88 10.50,-17.50 10.38,-17.62 10.12,-17.62 10,-17.75 5.88,-17.75 5.75,-17.62Z"/><path id="t13" d="M5.88,-17.75 5.75,-17.62 5.50,-17.62 5.38,-17.50 3.38,-16.88 2,-15.62 1.25,-14.12 1.25,-12 2.38,-10.88 3,-10.75 3.12,-10.62 4,-10.88 5.12,-12 5.25,-12.25 5.25,-13 5.12,-13.25 4.25,-14 4.25,-14.25 4.75,-14.75 6.38,-15.25 6.50,-15.38 9.25,-15.38 9.75,-15.12 10.12,-14.75 10.75,-13.50 10.75,-12.50 10.12,-11.25 9.88,-11 9.12,-10.62 6.62,-10.62 6.38,-10.50 6,-10.12 6,-8.88 6.62,-8.38 7,-8.38 7.12,-8.25 9.25,-8.25 10.25,-7.75 10.75,-7.25 10.75,-7 11.50,-5 11.50,-3.62 10.88,-2.38 10.12,-1.62 9.12,-1.12 6.75,-1.12 6.62,-1.25 4.88,-1.75 4.25,-2.25 4.25,-2.50 5.25,-3.62 5.25,-4.38 5.12,-4.62 3.88,-5.75 3.62,-5.88 2.62,-5.88 2.38,-5.75 1.25,-4.62 1.25,-2.38 1.88,-1.12 3.25,0.25 3.50,0.38 3.75,0.38 5.75,1.12 6.12,1.12 6.25,1.25 9.62,1.25 9.75,1.12 10.12,1.12 10.25,1 10.50,1 10.62,0.88 12.62,0.25 13.88,-1.12 14.62,-2.62 14.62,-6.12 13.88,-7.62 12.50,-9 12.50,-9.12 13,-9.62 13.88,-11.38 13.88,-14.62 13,-16.38 12.25,-17 12,-17 10,-17.75Z"/><path id="t14" d="M9.75,-17.75 9,-17.12 8.38,-16.12 7.25,-14.75 7,-14.25 5.88,-12.88 5.62,-12.38 0.50,-5.50 0.50,-4.12 0.88,-3.75 1.50,-3.62 1.62,-3.50 8.12,-3.50 8.38,-3.25 8.38,-1.38 8.12,-1.12 6.62,-1.12 6.38,-1 6,-0.62 6,0.62 6.38,1 7,1.12 7.12,1.25 12.62,1.25 12.75,1.12 13.38,1 13.75,0.62 13.88,0.38 13.88,-0.38 13.75,-0.62 13.12,-1.12 11.75,-1.12 11.50,-1.38 11.50,-3.25 11.75,-3.50 14.25,-3.50 14.38,-3.62 14.75,-3.62 15.38,-4.12 15.50,-4.38 15.50,-5.12 15.38,-5.38 14.75,-5.88 11.75,-5.88 11.50,-6.12 11.50,-17 11.38,-17.25 10.75,-17.75ZM8.25,-11.50 8.38,-11.38 8.38,-6.12 8.12,-5.88 4.25,-5.88 4.12,-6.12 5.12,-7.38 5.38,-7.88 6.50,-9.25 6.75,-9.75 7.88,-11.25Z"/><path id="t15" d="M76.88,-12.12 76.50,-11.50 76.50,-11 76.75,-10.50 77.12,-10.25 77.50,-10.25 77.62,-10.12 78.62,-10.12 78.88,-9.88 78.88,-1.38 78.62,-1.12 77.62,-1.12 77.50,-1 76.88,-0.88 76.50,-0.25 76.50,0.25 76.75,0.75 77.12,1 77.50,1 77.62,1.12 83.12,1.12 83.25,1 83.88,0.88 84.25,0.25 84.25,-0.25 84,-0.75 83.62,-1 83.25,-1 83.12,-1.12 82.12,-1.12 81.88,-1.38 81.88,-11.50 81.62,-12 81.25,-12.25 80.88,-12.25 80.75,-12.38 77.62,-12.38 77.50,-12.25ZM49.38,-12.25 47.62,-11.38 46.62,-10.38 46.38,-9.88 46.38,-7.75 46.62,-7.25 47.62,-6.25 49.62,-5.25 49.88,-5.25 50.25,-5 50.50,-5 50.88,-4.75 51.12,-4.75 51.50,-4.50 51.75,-4.50 52.12,-4.25 53,-4 54.50,-3.25 55,-2.75 55,-2.12 54.50,-1.50 53.75,-1.12 50.88,-1.12 49.88,-1.62 49.12,-2.38 48.25,-4.12 48,-4.25 47,-4.25 46.62,-4 46.38,-3.50 46.38,0.25 46.62,0.75 47,1 48,1 48.25,0.88 48.75,0.25 50.12,1 50.50,1 50.62,1.12 54,1.12 54.12,1 54.50,1 56.25,0.12 57.25,-1.38 57.25,-4.25 57,-4.75 56.12,-5.75 54.12,-6.75 53.88,-6.75 53.50,-7 53.25,-7 52.88,-7.25 52.62,-7.25 52.25,-7.50 52,-7.50 51.62,-7.75 50.75,-8 49.38,-8.75 49.12,-8.75 48.75,-9.25 49.12,-9.62 50.12,-10.12 52.88,-10.12 53.88,-9.62 54.50,-9 54.50,-8.75 55.38,-7.12 55.62,-7 56.62,-7 57,-7.25 57.25,-7.75 57.25,-11.50 57,-12 56.62,-12.25 55.62,-12.25 55.38,-12.12 55,-11.62 54.75,-11.62 53.62,-12.25 53.25,-12.25 53.12,-12.38 49.88,-12.38 49.75,-12.25ZM20.50,-12.38 20.38,-12.25 20,-12.25 17.62,-11.38 15.75,-9.50 14.75,-6.75 14.75,-4.38 15.75,-1.62 17.50,0.12 19.88,1 20.25,1 20.38,1.12 22.25,1.12 22.38,1 22.75,1 22.88,0.88 23.12,0.88 23.25,0.75 25.25,0.12 27,-1.62 27.25,-2.12 27.25,-2.62 27,-3.12 26.62,-3.38 25.62,-3.38 23.62,-1.62 23.38,-1.62 22.12,-1.12 20.75,-1.12 19.75,-1.62 18.38,-3.12 18.38,-3.38 17.75,-5 18,-5.25 26.12,-5.25 26.25,-5.38 26.62,-5.38 27,-5.62 27.25,-6.12 27.25,-8.38 26.25,-10.38 26,-10.50 25.25,-11.38 23.50,-12.25 23.12,-12.25 23,-12.38ZM18.38,-8 19.88,-9.62 20.88,-10.12 22.75,-10.12 23.50,-9.75 23.75,-9.50 24.25,-8.50 24.25,-7.75 24,-7.50 18.50,-7.50 18.38,-7.62ZM0.88,-12.12 0.50,-11.50 0.50,-11 0.75,-10.50 1.12,-10.25 1.50,-10.25 1.62,-10.12 2.62,-10.12 2.88,-9.88 2.88,-1.38 2.62,-1.12 1.62,-1.12 1.50,-1 0.88,-0.88 0.50,-0.25 0.50,0.25 0.75,0.75 1.12,1 1.50,1 1.62,1.12 7.12,1.12 7.25,1 7.88,0.88 8.25,0.25 8.25,-0.25 8,-0.75 7.62,-1 7.25,-1 7.12,-1.12 6.12,-1.12 5.88,-1.38 5.88,-6.12 6,-6.25 6.50,-8 8,-9.62 8.75,-10 9,-10 9.12,-9.88 9.12,-9.38 9.38,-8.88 10.38,-7.88 10.62,-7.75 11.62,-7.75 11.88,-7.88 12.75,-8.88 13,-9.38 13,-10.75 12.75,-11.25 11.88,-12.12 11.25,-12.25 11.12,-12.38 8.62,-12.38 8.50,-12.25 8.12,-12.25 7.62,-11.88 6.50,-11.38 6.12,-11 5.88,-11.12 5.88,-11.50 5.62,-12 5.25,-12.25 4.88,-12.25 4.75,-12.38 1.62,-12.38 1.50,-12.25ZM98.50,-17.75 98.12,-17.50 97.88,-17 97.88,-12.62 97.62,-12.38 96.62,-12.38 96.50,-12.25 95.88,-12.12 95.50,-11.50 95.50,-11 95.75,-10.50 96.12,-10.25 96.50,-10.25 96.62,-10.12 97.62,-10.12 97.88,-9.88 97.88,-2.88 98,-2.75 98,-2.50 98.62,-0.88 98.62,-0.50 98.88,0 100.75,1 101.12,1 101.25,1.12 103.12,1.12 103.25,1 103.62,1 105.50,0 106.25,-1.50 106.38,-2.62 106.12,-3.12 105.75,-3.38 104.75,-3.38 104.38,-3.12 104,-2.38 104,-2 103.62,-1.50 102.88,-1.12 101.88,-1.12 101.62,-1.38 101,-3.38 100.88,-3.50 100.88,-9.88 101.12,-10.12 103,-10.12 103.12,-10.25 103.50,-10.25 103.88,-10.50 104.12,-11 104.12,-11.50 103.88,-12 103.50,-12.25 103.12,-12.25 103,-12.38 101.12,-12.38 100.88,-12.62 100.88,-17 100.62,-17.50 100.25,-17.75ZM79.50,-17.75 78.38,-16.75 78.12,-16.25 78.12,-15.75 78.38,-15.25 79.25,-14.38 80.12,-14.12 80.25,-14.25 80.88,-14.38 81.25,-14.75 81.88,-15.75 81.88,-16.25 81.62,-16.75 81.38,-16.88 80.75,-17.62 80.50,-17.75ZM93.25,-17.75 92.88,-17.75 92.75,-17.88 91,-17.88 90.88,-17.75 90.50,-17.75 88.75,-16.88 87.62,-14.75 87.62,-12.62 87.38,-12.38 86.38,-12.38 86.25,-12.25 85.88,-12.25 85.50,-12 85.25,-11.50 85.25,-11 85.62,-10.38 86.25,-10.25 86.38,-10.12 87.38,-10.12 87.62,-9.88 87.62,-1.38 87.38,-1.12 86.38,-1.12 86.25,-1 85.88,-1 85.50,-0.75 85.25,-0.25 85.25,0.25 85.50,0.75 85.88,1 86.25,1 86.38,1.12 91.88,1.12 92,1 92.62,0.88 93,0.25 93,-0.25 92.62,-0.88 92,-1 91.88,-1.12 90.88,-1.12 90.62,-1.38 90.62,-9.88 90.88,-10.12 92.75,-10.12 92.88,-10.25 93.25,-10.25 93.62,-10.50 93.88,-11 93.88,-11.50 93.62,-12 93.25,-12.25 92.88,-12.25 92.75,-12.38 90.88,-12.38 90.62,-12.62 90.62,-14.12 91,-14.50 92.25,-13.38 93.25,-13.38 93.62,-13.62 93.75,-14 94.25,-14.50 94.50,-15 94.50,-16.25 93.75,-17.38ZM59.38,-17.62 59,-17 59,-16.50 59.25,-16 59.62,-15.75 60,-15.75 60.12,-15.62 61.25,-15.62 61.50,-15.38 61.50,-1.38 61.25,-1.12 60.12,-1.12 60,-1 59.38,-0.88 59,-0.25 59,0.25 59.25,0.75 59.62,1 60,1 60.12,1.12 65.75,1.12 65.88,1 66.25,1 66.62,0.75 66.88,0.25 66.88,-0.25 66.62,-0.75 66.25,-1 65.88,-1 65.75,-1.12 64.75,-1.12 64.50,-1.38 64.50,-8.25 65.75,-9.50 66,-9.62 66.25,-9.62 67.50,-10.12 68.62,-10.12 69.38,-9.75 69.75,-9.38 70.12,-8.62 70.12,-1.38 69.88,-1.12 68.88,-1.12 68.75,-1 68.12,-0.88 67.75,-0.25 67.75,0.25 68,0.75 68.38,1 68.75,1 68.88,1.12 74.50,1.12 74.62,1 75.25,0.88 75.62,0.25 75.62,-0.25 75.38,-0.75 75,-1 74.62,-1 74.50,-1.12 73.38,-1.12 73.12,-1.38 73.12,-9.12 72.12,-11.12 71.62,-11.50 71.38,-11.50 69.38,-12.25 69,-12.25 68.88,-12.38 67.38,-12.38 67.25,-12.25 66.88,-12.25 66.75,-12.12 64.75,-11.50 64.50,-11.75 64.50,-17 64.25,-17.50 63.88,-17.75 63.50,-17.75 63.38,-17.88 60.12,-17.88 60,-17.75ZM37.50,-17.75 37.12,-17.50 36.88,-17 36.88,-16.50 37.12,-16 37.50,-15.75 37.88,-15.75 38,-15.62 39,-15.62 39.25,-15.38 39.25,-11.75 39.12,-11.62 38.88,-11.62 37.75,-12.25 37.38,-12.25 37.25,-12.38 35.62,-12.38 35.50,-12.25 35.12,-12.25 35,-12.12 34.75,-12.12 34.62,-12 32.62,-11.38 30.75,-9.50 30.38,-8.75 30.38,-8.50 29.75,-6.88 29.75,-4.25 29.88,-4.12 30.38,-2.38 30.75,-1.62 32.50,0.12 34.50,0.75 34.62,0.88 34.88,0.88 35,1 35.38,1 35.50,1.12 37.38,1.12 37.50,1 37.88,1 39,0.38 39.25,0.38 39.62,0.88 40.25,1 40.38,1.12 43.50,1.12 43.62,1 44,1 44.38,0.75 44.62,0.25 44.62,-0.25 44.38,-0.75 44,-1 43.62,-1 43.50,-1.12 42.62,-1.12 42.38,-1.38 42.38,-17 42,-17.62 41.38,-17.75 41.25,-17.88 38,-17.88 37.88,-17.75ZM35.88,-10.12 37,-10.12 38,-9.62 39.25,-8.38 39.25,-2.88 37.88,-1.50 37.12,-1.12 35.75,-1.12 34.75,-1.62 33.38,-3 33.38,-3.25 32.75,-4.88 32.75,-6.25 32.88,-6.38 33.38,-8.12 34.88,-9.62Z"/><path id="t16" d="M19.12,-2.75 17.62,-1.50 17.62,-0.25 18.88,1 19.12,1.12 20.12,1.12 20.38,1 21.62,-0.25 21.75,-0.50 21.75,-1.25 21.62,-1.50 20.38,-2.62 20.12,-2.75ZM33.25,-18.50 33,-18.38 32,-17.25 32,-17 31.50,-16.25 30.38,-14.88 30.12,-14.38 29.50,-13.62 29.50,-13.38 27.75,-11.12 27.50,-10.62 27.12,-10.25 27.12,-10 24.62,-6.62 24.62,-6.38 24,-5.62 24,-4.38 24.38,-4 25,-3.88 25.12,-3.75 31.62,-3.75 31.88,-3.50 31.88,-1.38 31.62,-1.12 30.12,-1.12 29.88,-1 29.50,-0.62 29.50,0.62 29.88,1 30.50,1.12 30.62,1.25 36.12,1.25 36.25,1.12 36.88,1 37.25,0.62 37.38,0.38 37.38,-0.38 37.25,-0.62 36.62,-1.12 35.25,-1.12 35,-1.38 35,-3.50 35.25,-3.75 37.75,-3.75 37.88,-3.88 38.25,-3.88 38.88,-4.38 39,-4.62 39,-5.38 38.88,-5.62 38.25,-6.12 35.25,-6.12 35,-6.38 35,-17.75 34.88,-18 34.25,-18.50ZM31.75,-12 31.88,-11.88 31.88,-6.38 31.62,-6.12 27.75,-6.12 27.62,-6.25 27.75,-6.62 29.12,-8.38 29.50,-9.12 31.12,-11.25 31.38,-11.75ZM6.50,-18.50 6.12,-18.25 5.88,-18.25 5.50,-18 5.25,-18 4,-17.50 3.38,-16.88 2.62,-15.75 2.50,-15.25 2,-14.62 2,-14.12 1.88,-14 1.88,-13.50 1.75,-13.38 1.75,-12.88 1.62,-12.75 1.62,-12.25 1.50,-12.12 1.50,-11.62 1.38,-11.50 1.38,-11 1.25,-10.88 1.25,-6.38 1.38,-6.25 1.38,-5.75 1.50,-5.62 1.50,-5.12 1.62,-5 1.62,-4.50 1.75,-4.38 2,-2.62 2.50,-2 2.62,-1.50 3.38,-0.38 3.88,0.12 4.38,0.38 5.38,0.62 5.75,0.88 6,0.88 6.50,1.12 6.88,1.12 7,1.25 8.75,1.25 8.88,1.12 9.25,1.12 9.38,1 9.62,1 9.75,0.88 11.75,0.25 12.12,-0.12 12.25,-0.50 13.88,-2.88 13.88,-3.38 14,-3.50 14,-4 14.12,-4.12 14.12,-4.62 14.25,-4.75 14.25,-5.25 14.38,-5.38 14.38,-5.88 14.50,-6 14.50,-6.50 14.62,-6.62 14.62,-10.62 14.50,-10.75 14.50,-11.25 14.38,-11.38 14.38,-11.88 14.25,-12 14.25,-12.50 14.12,-12.62 13.88,-14.38 12.25,-16.75 12.12,-17.12 11.62,-17.62 9.62,-18.25 9.50,-18.38 9.25,-18.38 9.12,-18.50ZM7.38,-16.12 8.38,-16.12 9.38,-15.62 9.88,-15.12 9.88,-14.75 10.75,-13 10.75,-12.50 10.88,-12.38 10.88,-11.88 11,-11.75 11,-11.25 11.12,-11.12 11.12,-10.62 11.25,-10.50 11.25,-10 11.38,-9.88 11.38,-9.38 11.50,-9.25 11.50,-8 11.38,-7.88 11.38,-7.38 11.25,-7.25 11.25,-6.75 11.12,-6.62 11.12,-6.12 11,-6 11,-5.50 10.88,-5.38 10.88,-4.88 10.75,-4.75 10.62,-3.75 9.88,-2.25 9.25,-1.62 8.25,-1.12 7.50,-1.12 7,-1.38 6.75,-1.62 6.38,-1.75 5.62,-2.50 5,-4 5,-4.50 4.88,-4.62 4.88,-5.75 4.75,-5.88 4.75,-6.38 4.62,-6.50 4.62,-7 4.50,-7.12 4.50,-7.62 4.38,-7.75 4.38,-9.50 4.50,-9.62 4.50,-10.12 4.62,-10.25 4.62,-10.75 4.75,-10.88 4.75,-11.38 4.88,-11.50 4.88,-12.62 5,-12.75 5.12,-13.62 5.88,-15.12 6.38,-15.62Z"/><path id="t17" d="M19.12,-2.75 17.62,-1.50 17.62,-0.25 18.88,1 19.12,1.12 20.12,1.12 20.38,1 21.62,-0.25 21.75,-0.50 21.75,-1.25 21.62,-1.50 20.38,-2.62 20.12,-2.75ZM27.25,-17.75 26.75,-17.50 25.50,-16.25 24.75,-14.75 24.75,-12.62 25.88,-11.38 26.12,-11.25 27.12,-11.25 27.38,-11.38 28.62,-12.62 28.75,-12.88 28.75,-13.62 28.62,-13.88 27.75,-14.62 27.75,-15 28.25,-15.50 28.50,-15.50 28.88,-15.75 29.12,-15.75 30,-16.12 32.62,-16.12 33.62,-15.62 34.38,-14.88 34.50,-14.25 35,-13.38 35,-13 34.50,-12.12 34.50,-11.75 34.12,-11.38 32.50,-10.38 32,-9.88 27.50,-7.62 27.12,-7.12 25.50,-5.62 25.50,-5.38 24.75,-3.38 24.75,0.62 25.38,1.12 26.38,1.12 26.62,1 27.12,0.38 27.12,-1 27.38,-1.25 27.88,-1.25 29,-0.62 29.25,-0.38 29.62,-0.25 30.38,0.38 31.75,1.12 32.12,1.12 32.25,1.25 35.38,1.25 35.50,1.12 35.88,1.12 36.12,1 37.25,-0.25 38.12,-2 38.12,-4.50 37.62,-5.12 37.38,-5.25 36.38,-5.25 36.12,-5.12 35.75,-4.75 35.75,-3.12 35.25,-2.62 34.12,-2 32.50,-2 32.12,-2.25 31.88,-2.25 31,-2.75 30.75,-2.75 29.12,-3.50 28.88,-3.50 28.75,-3.62 27.88,-3.62 27.62,-3.88 27.75,-4 27.75,-4.25 29.25,-5.75 30.75,-6.50 31,-6.50 31.88,-7 32.12,-7 32.50,-7.25 33.38,-7.50 34.62,-8.12 36.12,-9.12 37.25,-10.12 38.12,-11.88 38.12,-14.50 37.25,-16.25 36.12,-17.50 35.62,-17.75 33.88,-18.25 33.50,-18.50 29.38,-18.50 29.25,-18.38 27.88,-18 27.50,-17.75ZM6.50,-18.50 6.12,-18.25 5.88,-18.25 5.50,-18 5.25,-18 4,-17.50 3.38,-16.88 2.62,-15.75 2.50,-15.25 2,-14.62 2,-14.12 1.88,-14 1.88,-13.50 1.75,-13.38 1.75,-12.88 1.62,-12.75 1.62,-12.25 1.50,-12.12 1.50,-11.62 1.38,-11.50 1.38,-11 1.25,-10.88 1.25,-6.38 1.38,-6.25 1.38,-5.75 1.50,-5.62 1.50,-5.12 1.62,-5 1.62,-4.50 1.75,-4.38 2,-2.62 2.50,-2 2.62,-1.50 3.38,-0.38 3.88,0.12 4.38,0.38 5.38,0.62 5.75,0.88 6,0.88 6.50,1.12 6.88,1.12 7,1.25 8.75,1.25 8.88,1.12 9.25,1.12 9.38,1 9.62,1 9.75,0.88 11.75,0.25 12.12,-0.12 12.25,-0.50 13.88,-2.88 13.88,-3.38 14,-3.50 14,-4 14.12,-4.12 14.12,-4.62 14.25,-4.75 14.25,-5.25 14.38,-5.38 14.38,-5.88 14.50,-6 14.50,-6.50 14.62,-6.62 14.62,-10.62 14.50,-10.75 14.50,-11.25 14.38,-11.38 14.38,-11.88 14.25,-12 14.25,-12.50 14.12,-12.62 13.88,-14.38 12.25,-16.75 12.12,-17.12 11.62,-17.62 9.62,-18.25 9.50,-18.38 9.25,-18.38 9.12,-18.50ZM7.38,-16.12 8.38,-16.12 9.38,-15.62 9.88,-15.12 9.88,-14.75 10.75,-13 10.75,-12.50 10.88,-12.38 10.88,-11.88 11,-11.75 11,-11.25 11.12,-11.12 11.12,-10.62 11.25,-10.50 11.25,-10 11.38,-9.88 11.38,-9.38 11.50,-9.25 11.50,-8 11.38,-7.88 11.38,-7.38 11.25,-7.25 11.25,-6.75 11.12,-6.62 11.12,-6.12 11,-6 11,-5.50 10.88,-5.38 10.88,-4.88 10.75,-4.75 10.62,-3.75 9.88,-2.25 9.25,-1.62 8.25,-1.12 7.50,-1.12 7,-1.38 6.75,-1.62 6.38,-1.75 5.62,-2.50 5,-4 5,-4.50 4.88,-4.62 4.88,-5.75 4.75,-5.88 4.75,-6.38 4.62,-6.50 4.62,-7 4.50,-7.12 4.50,-7.62 4.38,-7.75 4.38,-9.50 4.50,-9.62 4.50,-10.12 4.62,-10.25 4.62,-10.75 4.75,-10.88 4.75,-11.38 4.88,-11.50 4.88,-12.62 5,-12.75 5.12,-13.62 5.88,-15.12 6.38,-15.62Z"/><path id="t18" d="M6.50,-18.50 6.12,-18.25 5.88,-18.25 5.50,-18 5.25,-18 4,-17.50 3.38,-16.88 2.62,-15.75 2.50,-15.25 2,-14.62 2,-14.12 1.88,-14 1.88,-13.50 1.75,-13.38 1.75,-12.88 1.62,-12.75 1.62,-12.25 1.50,-12.12 1.50,-11.62 1.38,-11.50 1.38,-11 1.25,-10.88 1.25,-6.38 1.38,-6.25 1.38,-5.75 1.50,-5.62 1.50,-5.12 1.62,-5 1.62,-4.50 1.75,-4.38 2,-2.62 2.50,-2 2.62,-1.50 3.38,-0.38 3.88,0.12 4.38,0.38 5.38,0.62 5.75,0.88 6,0.88 6.50,1.12 6.88,1.12 7,1.25 8.75,1.25 8.88,1.12 9.25,1.12 9.38,1 9.62,1 9.75,0.88 11.75,0.25 12.12,-0.12 12.25,-0.50 13.88,-2.88 13.88,-3.38 14,-3.50 14,-4 14.12,-4.12 14.12,-4.62 14.25,-4.75 14.25,-5.25 14.38,-5.38 14.38,-5.88 14.50,-6 14.50,-6.50 14.62,-6.62 14.62,-10.62 14.50,-10.75 14.50,-11.25 14.38,-11.38 14.38,-11.88 14.25,-12 14.25,-12.50 14.12,-12.62 13.88,-14.38 12.25,-16.75 12.12,-17.12 11.62,-17.62 9.62,-18.25 9.50,-18.38 9.25,-18.38 9.12,-18.50ZM7.38,-16.12 8.38,-16.12 9.38,-15.62 9.88,-15.12 9.88,-14.75 10.75,-13 10.75,-12.50 10.88,-12.38 10.88,-11.88 11,-11.75 11,-11.25 11.12,-11.12 11.12,-10.62 11.25,-10.50 11.25,-10 11.38,-9.88 11.38,-9.38 11.50,-9.25 11.50,-8 11.38,-7.88 11.38,-7.38 11.25,-7.25 11.25,-6.75 11.12,-6.62 11.12,-6.12 11,-6 11,-5.50 10.88,-5.38 10.88,-4.88 10.75,-4.75 10.62,-3.75 9.88,-2.25 9.25,-1.62 8.25,-1.12 7.50,-1.12 7,-1.38 6.75,-1.62 6.38,-1.75 5.62,-2.50 5,-4 5,-4.50 4.88,-4.62 4.88,-5.75 4.75,-5.88 4.75,-6.38 4.62,-6.50 4.62,-7 4.50,-7.12 4.50,-7.62 4.38,-7.75 4.38,-9.50 4.50,-9.62 4.50,-10.12 4.62,-10.25 4.62,-10.75 4.75,-10.88 4.75,-11.38 4.88,-11.50 4.88,-12.62 5,-12.75 5.12,-13.62 5.88,-15.12 6.38,-15.62Z"/><path id="t19" d="M39.62,-2.75 38.12,-1.50 38.12,-0.25 39.38,1 39.62,1.12 40.62,1.12 41.25,0.62 42,-0.50 42,-1.25 41.62,-1.88 40.88,-2.62 40.62,-2.75ZM2,-8 2,-6.75 2.38,-6.38 3,-6.25 3.12,-6.12 17.25,-6.12 17.38,-6.25 18,-6.38 18.50,-7 18.50,-7.75 18.38,-8 17.75,-8.50 2.62,-8.50ZM47.62,-17.75 47.12,-17.50 46,-16.25 45.38,-14.88 45.12,-14.62 45.12,-12.62 46.38,-11.38 46.62,-11.25 47.62,-11.25 47.88,-11.38 49,-12.50 49.12,-12.75 49.12,-13.62 48.25,-14.62 48.25,-15 48.75,-15.50 50.38,-16 50.50,-16.12 53.12,-16.12 53.88,-15.75 54.62,-15 55.38,-13.50 55.38,-12.88 54.75,-11.62 54.25,-11.12 52.75,-10.12 52.12,-9.88 51.88,-9.62 47.88,-7.62 46,-5.62 45.38,-3.62 45.25,-3.50 45.25,-3.25 45.12,-3.12 45.12,0.62 45.75,1.12 46.75,1.12 47,1 47.50,0.38 47.50,-1 47.75,-1.25 48.25,-1.25 49.12,-0.75 49.50,-0.38 49.88,-0.25 50.12,0 52.12,1.12 52.50,1.12 52.62,1.25 55.75,1.25 55.88,1.12 56.25,1.12 56.50,1 57.75,-0.38 58.62,-2.12 58.62,-4.50 58.12,-5.12 57.88,-5.25 56.88,-5.25 56.62,-5.12 56.25,-4.75 56.25,-3.12 55.75,-2.62 54.50,-2 52.88,-2 52.50,-2.25 51.62,-2.50 50.75,-3 50.50,-3 49.50,-3.50 49.25,-3.50 49.12,-3.62 48.38,-3.62 48.12,-4 48.25,-4.12 48.25,-4.38 49.38,-5.62 51.62,-6.75 51.88,-6.75 52.25,-7 53.12,-7.25 54,-7.75 54.25,-7.75 55,-8.12 55.75,-8.62 56.25,-9.12 57.12,-9.62 57.75,-10.25 58.62,-12 58.62,-14.38 57.62,-16.38 56.50,-17.50 55.75,-17.88 55.50,-17.88 53.88,-18.50 49.75,-18.50 49.38,-18.25ZM27,-18.50 24.38,-17.50 24,-17.12 22.38,-14.62 22.25,-13.75 22.12,-13.62 22.12,-12.50 22,-12.38 22,-11.88 21.88,-11.75 21.88,-11.25 21.75,-11.12 21.75,-10.62 21.62,-10.50 21.62,-6.75 21.75,-6.62 21.75,-6.12 21.88,-6 21.88,-5.50 22,-5.38 22,-4.88 22.12,-4.75 22.12,-3.62 22.25,-3.50 22.38,-2.62 23.75,-0.50 24.50,0.25 26.88,1.12 27.25,1.12 27.38,1.25 29.12,1.25 29.25,1.12 29.62,1.12 29.75,1 31.12,0.62 31.50,0.38 31.75,0.38 32.25,0.12 32.62,-0.25 34.12,-2.50 34.38,-3.12 34.38,-4.25 34.50,-4.38 34.50,-4.88 34.62,-5 34.62,-5.50 34.75,-5.62 34.75,-6.12 34.88,-6.25 34.88,-6.75 35,-6.88 35,-10.38 34.88,-10.50 34.88,-11 34.75,-11.12 34.75,-11.62 34.62,-11.75 34.62,-12.25 34.50,-12.38 34.50,-12.88 34.38,-13 34.38,-14.12 34.25,-14.25 34.25,-14.50 32.62,-17 32.12,-17.50 31.62,-17.75 31.38,-17.75 31,-18 30.75,-18 29.50,-18.50ZM27.88,-16.12 28.75,-16.12 29.50,-15.75 30.38,-14.88 31.12,-13.38 31.12,-12.88 31.25,-12.75 31.25,-12.25 31.38,-12.12 31.38,-11.62 31.50,-11.50 31.50,-11 31.62,-10.88 31.62,-10.38 31.75,-10.25 31.75,-9.75 31.88,-9.62 31.88,-7.62 31.75,-7.50 31.75,-7 31.62,-6.88 31.62,-6.38 31.50,-6.25 31.50,-5.75 31.38,-5.62 31.12,-3.88 30.38,-2.38 29.62,-1.62 28.62,-1.12 28,-1.12 26.75,-1.75 26.25,-2.25 25.50,-3.75 25.50,-4.25 25.38,-4.38 25.38,-4.88 25.25,-5 25.25,-5.50 25.12,-5.62 25.12,-6.12 25,-6.25 25,-6.75 24.88,-6.88 24.88,-7.38 24.75,-7.50 24.75,-9.75 24.88,-9.88 24.88,-10.38 25,-10.50 25,-11 25.12,-11.12 25.12,-11.62 25.25,-11.75 25.50,-13.50 26.25,-15 27,-15.75 27.50,-15.88Z"/><path id="t20" d="M5.75,-18.50 5.38,-18.25 5.12,-18.25 3.12,-17.50 2,-16.25 1.25,-14.75 1.25,-12.62 2.38,-11.38 2.62,-11.25 3.62,-11.25 4.75,-12.25 5.12,-12.88 5.12,-13.62 4.25,-14.62 4.25,-15 4.75,-15.50 6.38,-16 6.50,-16.12 9.12,-16.12 9.62,-15.88 10,-15.50 10.62,-14.25 10.62,-12.88 10,-11.62 8.88,-11 6.50,-11 6.25,-10.88 5.88,-10.50 5.88,-9.25 6.25,-8.88 6.88,-8.75 7,-8.62 9.25,-8.62 10,-8.25 10.75,-7.38 10.75,-7.12 11.50,-5.12 11.50,-3.88 10.75,-2.38 10,-1.62 9,-1.12 6.75,-1.12 6.62,-1.25 4.88,-1.75 4.25,-2.25 4.25,-2.62 4.75,-3.12 5.12,-3.75 5.12,-4.50 4.75,-5.12 3.88,-6 3.62,-6.12 2.62,-6.12 2.38,-6 1.25,-4.88 1.25,-2.50 2,-1 3,0.12 3.50,0.38 3.75,0.38 6.12,1.25 9.50,1.25 9.62,1.12 10,1.12 10.12,1 11.50,0.62 11.88,0.38 12.12,0.38 12.62,0.12 13.75,-1 14.62,-2.75 14.62,-6.25 13.75,-8 12.25,-9.50 13,-10.25 13.88,-12 13.88,-15.25 13.50,-15.75 13,-17 12.50,-17.50 12,-17.75 11.75,-17.75 11.38,-18 11.12,-18 9.88,-18.50Z"/><path id="t21" d="M3.62,-17.75 3.12,-17.50 2,-16.25 1.25,-14.75 1.25,-12.62 2.38,-11.38 2.62,-11.25 3.62,-11.25 4.75,-12.25 5.12,-12.88 5.12,-13.62 4.25,-14.62 4.25,-15 4.75,-15.50 6.38,-16 6.50,-16.12 9.12,-16.12 9.88,-15.75 10.75,-14.88 11,-14.38 11,-14.12 11.50,-13.25 11.50,-13 10.88,-11.75 9.88,-10.88 7.75,-9.50 4,-7.62 2,-5.62 2,-5.38 1.25,-3.38 1.25,0.62 1.88,1.12 2.88,1.12 3.12,1 3.62,0.38 3.62,-1 3.88,-1.25 4.38,-1.25 8.12,1.12 8.50,1.12 8.62,1.25 11.75,1.25 11.88,1.12 12.25,1.12 12.50,1 13.75,-0.25 14.62,-2 14.62,-4.50 14.12,-5.12 13.88,-5.25 12.88,-5.25 12.62,-5.12 12.25,-4.75 12.25,-3.12 11.75,-2.62 10.50,-2 9,-2 8.62,-2.25 8.38,-2.25 8,-2.50 7.12,-2.75 5.62,-3.50 5.38,-3.50 5.25,-3.62 4.38,-3.62 4.12,-3.88 4.25,-4 4.25,-4.25 5.50,-5.62 6.88,-6.25 7.12,-6.50 7.38,-6.50 7.75,-6.75 8.62,-7 9.50,-7.50 9.75,-7.50 11.12,-8.12 12,-8.88 13.25,-9.62 13.75,-10.12 14.62,-11.88 14.62,-14.50 13.75,-16.25 12.50,-17.50 9.88,-18.50 5.75,-18.50 5.38,-18.25Z"/><path id="t22" d="M8.12,-18.50 7.88,-18.38 5.25,-15.62 4.12,-15.12 3.62,-14.62 3.62,-13.38 4.25,-12.88 5.25,-12.88 6.38,-13.50 6.62,-13.50 6.75,-13.38 6.75,-1.38 6.50,-1.12 4.25,-1.12 4,-1 3.62,-0.62 3.62,0.62 4,1 4.62,1.12 4.75,1.25 11.75,1.25 11.88,1.12 12.50,1 12.88,0.62 13,0.38 13,-0.38 12.88,-0.62 12.25,-1.12 10.12,-1.12 9.88,-1.38 9.88,-17.75 9.75,-18 9.12,-18.50Z"/><path id="t23" d="M0.88,-17.62 0.38,-17 0.38,-16.25 0.50,-16 1.12,-15.50 1.50,-15.50 1.62,-15.38 2.50,-15.38 2.75,-15.12 2.75,-1.50 2.50,-1.25 1.62,-1.25 1.50,-1.12 0.88,-1 0.38,-0.38 0.38,0.38 0.50,0.62 0.88,1 1.50,1.12 1.62,1.25 6.38,1.25 6.50,1.12 7.12,1 7.50,0.62 7.62,0.38 7.62,-0.38 7.12,-1 6.50,-1.12 6.38,-1.25 5.50,-1.25 5.25,-1.50 5.25,-7.62 5.50,-7.75 5.62,-7.62 5.62,-7.38 5.75,-7.25 5.75,-7 5.88,-6.88 5.88,-6.62 6,-6.50 6,-6.25 6.12,-6.12 6.12,-5.88 6.25,-5.75 6.25,-5.50 6.38,-5.38 6.38,-5.12 6.50,-5 6.50,-4.75 6.62,-4.62 6.62,-4.38 6.75,-4.25 6.75,-4 6.88,-3.88 6.88,-3.62 7,-3.50 7,-3.25 7.12,-3.12 7.12,-2.88 7.25,-2.75 7.25,-2.50 7.38,-2.38 7.38,-2.12 8.38,0.62 9,1.12 10,1.12 10.25,1 10.75,0.38 10.75,0.12 10.88,0 10.88,-0.25 11,-0.38 11,-0.62 11.12,-0.75 11.12,-1 11.25,-1.12 11.25,-1.38 11.38,-1.50 11.38,-1.75 11.50,-1.88 11.50,-2.12 11.62,-2.25 11.62,-2.50 11.75,-2.62 11.75,-2.88 11.88,-3 11.88,-3.25 12,-3.38 13.38,-7.75 13.62,-7.88 13.75,-7.75 13.75,-1.50 13.50,-1.25 12.62,-1.25 12.50,-1.12 11.88,-1 11.38,-0.38 11.38,0.38 11.50,0.62 11.88,1 12.50,1.12 12.62,1.25 18.12,1.25 18.25,1.12 18.88,1 19.38,0.38 19.38,-0.38 19.25,-0.62 18.62,-1.12 18.25,-1.12 18.12,-1.25 17.25,-1.25 17,-1.50 17,-15.12 17.25,-15.38 18.12,-15.38 18.25,-15.50 18.88,-15.62 19.38,-16.25 19.38,-17 19.25,-17.25 18.88,-17.62 18.25,-17.75 18.12,-17.88 15,-17.88 14.88,-17.75 14.25,-17.62 13.88,-17.25 13.62,-16.75 13.62,-16.50 13.50,-16.38 13.50,-16.12 13.38,-16 13.38,-15.75 13.25,-15.62 13.25,-15.38 13.12,-15.25 13.12,-15 13,-14.88 13,-14.62 12.88,-14.50 12.88,-14.25 12.75,-14.12 12.75,-13.88 12.62,-13.75 12.62,-13.50 12.50,-13.38 12.50,-13.12 12.38,-13 12.38,-12.75 12.25,-12.62 12.25,-12.38 12.12,-12.25 12.12,-12 12,-11.88 12,-11.62 11.88,-11.50 11.88,-11.25 11.75,-11.12 11.75,-10.88 11.62,-10.75 11.62,-10.50 11.50,-10.38 10.12,-6 9.88,-5.75 9.62,-6 9.62,-6.25 9.50,-6.38 9.50,-6.62 9.38,-6.75 9.38,-7 9.25,-7.12 9.25,-7.38 9.12,-7.50 9.12,-7.75 9,-7.88 9,-8.12 8.88,-8.25 8.88,-8.50 8.75,-8.62 8.75,-8.88 8.62,-9 8.62,-9.25 8.50,-9.38 8.50,-9.62 8.38,-9.75 8.38,-10 8.25,-10.12 8.25,-10.38 8.12,-10.50 8.12,-10.75 8,-10.88 8,-11.12 7.88,-11.25 7.88,-11.50 7.75,-11.62 7.75,-11.88 7.62,-12 7.62,-12.25 7.50,-12.38 7.50,-12.62 7.38,-12.75 7.38,-13 7.25,-13.12 7.25,-13.38 7.12,-13.50 7.12,-13.75 7,-13.88 7,-14.12 6.88,-14.25 6.88,-14.50 5.88,-17.25 5.50,-17.62 4.88,-17.75 4.75,-17.88 1.62,-17.88 1.50,-17.75Z"/><path id="t24" d="M0.25,0.50 0.50,0.88 1.12,1 1.25,1.12 2,1 2.12,0.88 2.50,0.88 3.12,1.12 5.62,1.12 7.25,0.50 7.88,-0.12 8.12,-0.62 8.12,-2.38 7.88,-2.88 7.50,-3.25 7.88,-3.62 8.12,-4.12 8.12,-5.12 8.25,-5.25 8.50,-5.25 8.62,-5.12 9.38,-5 9.62,-4.75 9.62,-1.25 9.75,-1.12 10,-0.12 10.38,0.50 10.88,0.75 11.12,0.75 11.50,1 11.88,1 12,1.12 13.50,1.12 13.62,1 14,1 14.38,0.75 14.62,0.75 15.25,0.38 15.75,-0.75 16,-0.88 16.75,0.50 17.38,0.75 17.75,0.75 18.25,1 18.62,1 18.75,1.12 20.88,1.12 21,1 21.38,1 22,0.62 22.50,0.62 22.88,0.88 23.62,1 23.75,1.12 24.62,1.12 25.25,0.88 25.75,0.88 26.38,1.12 30,1.12 30.12,1 30.75,0.88 31.12,0.25 31.12,-0.25 30.88,-0.75 30.50,-1 30,-1 29.75,-1.25 29.75,-3.50 30,-4.12 30.75,-4.62 31.25,-4.12 31.25,-4 31.62,-3.75 32,-3.75 32.12,-3.62 32.88,-3.75 33.88,-4.50 34.12,-5 34.12,-5.88 33.88,-6.38 32.88,-7.12 30.25,-7.12 29.88,-6.88 29.50,-6.88 29.12,-7.12 25.88,-7.12 25.62,-7 25.38,-6.62 25.38,-5.62 25.50,-5.38 25.88,-5.12 26.25,-5.12 26.75,-4.88 26.75,-1.25 26.50,-1 25.25,-0.88 25.12,-1 24.62,-1 24.25,-1.50 24.25,-4.75 23.88,-5.50 23.38,-6.12 23.25,-6.12 22.75,-6.62 22.25,-6.75 21.62,-7.12 18.50,-7.12 17.25,-6.50 16.75,-6.12 16.50,-5.75 16.50,-4.25 16.62,-4.12 16.62,-3.62 16.12,-2.75 16.12,-1.62 15.88,-1.50 15.62,-2 15.25,-2.25 14,-2.25 13.62,-2 13.25,-1.25 12.88,-1.25 12.50,-1.88 12.50,-4.75 12.75,-5 13.38,-5 13.50,-5.12 14.12,-5.25 14.50,-5.88 14.50,-6.38 14.12,-7 13.88,-7.12 12.75,-7.12 12.50,-7.38 12.50,-9.38 12.12,-10 11.88,-10.12 10.12,-10.12 9.88,-10 9.62,-9.62 9.62,-7.38 9.38,-7.12 8.62,-7.12 8.12,-6.75 7.50,-7.12 6.25,-7.12 6.12,-7 5.62,-7 5.50,-7.12 2.38,-7.12 1.25,-6.62 0.88,-6.25 0.38,-6 0.25,-5.75 0.25,-3.88 0.38,-3.62 1.12,-3 1.12,-2.88 0.50,-2.62 0.25,-2.25ZM2.75,-2.12 2.88,-2.25 3.50,-2.12 3.88,-1.88 4.12,-1.88 5,-1.50 5.12,-1.25 4.88,-1 3.88,-1 3.38,-1.25 2.88,-1.75ZM21.38,-2.38 21.38,-1.88 20.88,-1.38 20.12,-1 19.62,-1 18.88,-1.50 18.88,-1.88 19.50,-2.38 20.75,-2.50 20.88,-2.62 21.12,-2.62ZM5,-4.50 5.12,-4.62 5.25,-4.50 5.12,-4.38ZM19.50,-4.88 19.62,-5 20,-5 20.12,-4.75 20,-4.62 19.62,-4.62ZM4.12,-4.88 4.25,-5 4.62,-5 5.12,-4.62 5,-4.50 4.50,-4.50 4.25,-4.62Z"/><path id="t25" d="M25.62,-17.75 25.38,-17.62 22.88,-15.12 21.50,-14.50 20.88,-13.75 20.88,-13 21,-12.75 21.62,-12.25 22.62,-12.25 23.75,-12.88 24,-12.62 24,-1.50 23.75,-1.25 22.12,-1.25 22,-1.12 21.38,-1 20.88,-0.38 20.88,0.38 21.38,1 22,1.12 22.12,1.25 29.25,1.25 29.38,1.12 30,1 30.38,0.62 30.50,0.38 30.50,-0.38 30.38,-0.62 29.75,-1.12 29.38,-1.12 29.25,-1.25 27.62,-1.25 27.38,-1.50 27.38,-17 27.25,-17.25 26.62,-17.75ZM40.25,-17.88 40.12,-17.75 39.75,-17.75 39.62,-17.62 39.38,-17.62 39.25,-17.50 37.25,-16.88 36.75,-16.38 35.25,-14.12 35,-13.50 35,-13 34.88,-12.88 34.88,-12.38 34.75,-12.25 34.50,-10.50 34.25,-9.88 34.25,-6.75 34.38,-6.62 34.38,-6.12 34.50,-6 34.50,-5.50 34.62,-5.38 34.62,-4.88 34.75,-4.75 34.75,-4.25 34.88,-4.12 34.88,-3.62 35,-3.50 35.12,-2.62 36.75,-0.12 37.38,0.38 37.62,0.38 39.62,1.12 40,1.12 40.12,1.25 42,1.25 42.12,1.12 42.50,1.12 42.62,1 42.88,1 43,0.88 45,0.25 45.50,-0.25 47.12,-2.75 47.25,-4 47.38,-4.12 47.38,-4.62 47.50,-4.75 47.50,-5.25 47.62,-5.38 47.62,-5.88 47.75,-6 47.75,-6.50 47.88,-6.62 47.88,-10 47.75,-10.12 47.75,-10.62 47.62,-10.75 47.62,-11.25 47.50,-11.38 47.50,-11.88 47.38,-12 47.12,-13.75 45.50,-16.25 44.62,-17 44.38,-17 42.38,-17.75 42,-17.75 41.88,-17.88ZM40.62,-15.38 41.62,-15.38 42.62,-14.88 43.12,-14.38 43.88,-12.75 43.88,-12.25 44,-12.12 44,-11.62 44.12,-11.50 44.12,-11 44.25,-10.88 44.25,-10.38 44.38,-10.25 44.38,-9.75 44.50,-9.62 44.50,-9.12 44.62,-9 44.62,-7.50 44.50,-7.38 44.50,-6.88 44.38,-6.75 44.38,-6.25 44.25,-6.12 44.25,-5.62 44.12,-5.50 44.12,-5 44,-4.88 44,-4.38 43.88,-4.25 43.75,-3.38 43.25,-2.38 42.50,-1.62 41.75,-1.25 40.50,-1.25 39.50,-1.75 39,-2.25 38.38,-3.50 38.25,-4.50 38.12,-4.62 38.12,-5.12 38,-5.25 38,-5.75 37.88,-5.88 37.88,-6.38 37.75,-6.50 37.75,-7 37.62,-7.12 37.62,-9.50 37.75,-9.62 37.75,-10.12 37.88,-10.25 37.88,-10.75 38,-10.88 38,-11.38 38.12,-11.50 38.12,-12 38.25,-12.12 38.38,-13.12 38.88,-14.12 39.62,-14.88ZM16.50,-20.75 16.25,-20.88 15.25,-20.88 14.62,-20.38 13.75,-18.62 13,-17.50 12.62,-16.62 11.88,-15.50 11.50,-14.62 10.75,-13.50 10.38,-12.62 9.62,-11.50 9.25,-10.62 8.50,-9.50 8.12,-8.62 7.38,-7.50 7,-6.62 6.25,-5.50 5.88,-4.62 5.12,-3.50 4.75,-2.62 4,-1.50 3.62,-0.62 2.88,0.50 2.50,1.38 1.75,2.50 1.38,3.38 0.38,5 0.38,5.88 0.88,6.50 1.12,6.62 2.12,6.62 2.75,6.12 2.88,5.75 3.12,5.50 4,3.75 4.75,2.62 5.12,1.75 5.88,0.62 6.25,-0.25 7,-1.38 7.38,-2.25 8.12,-3.38 8.50,-4.25 9.25,-5.38 9.62,-6.25 9.88,-6.50 10.75,-8.25 11,-8.50 11.88,-10.25 12.12,-10.50 13,-12.25 13.25,-12.50 14.12,-14.25 14.38,-14.50 15.25,-16.25 15.50,-16.50 16.38,-18.25 16.62,-18.50 17,-19.25 17,-20.12Z"/><path id="t26" d="M4.88,-11.38 4.62,-11.25 3.25,-9.88 2.25,-9.38 1.75,-8.75 1.75,-8 2.25,-7.38 2.88,-7.25 3,-7.12 3.38,-7.25 3.62,-7 3.62,-1.50 3.38,-1.25 3,-1.25 2.88,-1.12 2.25,-1 1.75,-0.38 1.75,0.38 2.25,1 2.88,1.12 3,1.25 7.38,1.25 7.50,1.12 8.12,1 8.50,0.62 8.62,0.38 8.62,-0.38 8.12,-1 7.50,-1.12 7.38,-1.25 6.88,-1.25 6.62,-1.50 6.62,-10.62 6.50,-10.88 5.88,-11.38ZM14,-11.50 13.88,-11.38 13.50,-11.38 12.12,-10.88 11.50,-10.25 11,-9.38 10.62,-9 10.38,-8.38 10.38,-7.88 10.25,-7.75 10.25,-7.25 10.12,-7.12 10.12,-6.62 10,-6.50 10,-3.88 10.12,-3.75 10.12,-3.25 10.25,-3.12 10.25,-2.62 10.38,-2.50 10.50,-1.62 11.50,0 12,0.50 13.62,1.12 14,1.12 14.12,1.25 15.25,1.25 15.38,1.12 15.75,1.12 17.38,0.50 17.88,0 18.62,-1.12 19,-1.88 19,-2.38 19.12,-2.50 19.12,-3 19.25,-3.12 19.25,-3.62 19.38,-3.75 19.38,-6.50 19.25,-6.62 19.25,-7.12 19.12,-7.25 19.12,-7.75 19,-7.88 18.88,-8.75 18,-10.12 17.25,-10.88 15.88,-11.38 15.50,-11.38 15.38,-11.50ZM14.38,-9 15,-9 15.62,-8.50 16,-7.75 16,-7.25 16.12,-7.12 16.12,-6.62 16.25,-6.50 16.25,-6 16.38,-5.88 16.38,-4.50 16.25,-4.38 16,-2.62 15.62,-1.75 15,-1.25 14.38,-1.25 13.75,-1.75 13.38,-2.62 13.38,-3.12 13.25,-3.25 13.25,-3.75 13.12,-3.88 13.12,-4.38 13,-4.50 13,-5.75 13.12,-5.88 13.38,-7.62 13.75,-8.50Z"/><path id="t27" d="M13.50,-17.62 13,-17 13,-16.25 13.12,-16 13.75,-15.50 14.12,-15.50 14.25,-15.38 15.12,-15.38 15.38,-15.12 15.38,-1.50 15.12,-1.25 14.25,-1.25 14.12,-1.12 13.50,-1 13,-0.38 13,0.38 13.12,0.62 13.50,1 14.12,1.12 14.25,1.25 19,1.25 19.12,1.12 19.75,1 20.12,0.62 20.25,0.38 20.25,-0.38 19.75,-1 19.12,-1.12 19,-1.25 18.12,-1.25 17.88,-1.50 17.88,-7.62 18.12,-7.75 18.25,-7.62 18.25,-7.38 18.38,-7.25 18.38,-7 18.50,-6.88 18.50,-6.62 18.62,-6.50 18.62,-6.25 18.75,-6.12 18.75,-5.88 18.88,-5.75 18.88,-5.50 19,-5.38 19,-5.12 19.12,-5 19.12,-4.75 19.25,-4.62 19.25,-4.38 19.38,-4.25 19.38,-4 19.50,-3.88 19.50,-3.62 19.62,-3.50 19.62,-3.25 19.75,-3.12 19.75,-2.88 19.88,-2.75 19.88,-2.50 20,-2.38 20,-2.12 21,0.62 21.62,1.12 22.62,1.12 22.88,1 23.25,0.62 23.50,0.12 23.50,-0.12 23.62,-0.25 23.62,-0.50 23.75,-0.62 23.75,-0.88 23.88,-1 23.88,-1.25 24,-1.38 24,-1.62 24.12,-1.75 24.12,-2 24.25,-2.12 24.25,-2.38 24.38,-2.50 24.38,-2.75 24.50,-2.88 24.50,-3.12 24.62,-3.25 26,-7.62 26.25,-7.75 26.38,-7.62 26.38,-1.50 26.12,-1.25 25.25,-1.25 25.12,-1.12 24.50,-1 24,-0.38 24,0.38 24.12,0.62 24.50,1 25.12,1.12 25.25,1.25 30.75,1.25 30.88,1.12 31.50,1 32,0.38 32,-0.38 31.88,-0.62 31.25,-1.12 30,-1.25 29.75,-1.50 29.75,-15.12 30,-15.38 30.75,-15.38 30.88,-15.50 31.50,-15.62 32,-16.25 32,-17 31.88,-17.25 31.50,-17.62 30.88,-17.75 30.75,-17.88 27.62,-17.88 27.50,-17.75 26.88,-17.62 26.50,-17.25 25.88,-15.25 25.75,-15.12 25.75,-14.88 25.62,-14.75 25.62,-14.50 25.50,-14.38 25.50,-14.12 25.38,-14 25.38,-13.75 25.25,-13.62 25.25,-13.38 25.12,-13.25 25.12,-13 25,-12.88 25,-12.62 24.88,-12.50 24.88,-12.25 24.75,-12.12 24.75,-11.88 24.62,-11.75 24.62,-11.50 24.50,-11.38 24.50,-11.12 24.38,-11 24.38,-10.75 24.25,-10.62 24.25,-10.38 24.12,-10.25 24.12,-10 24,-9.88 24,-9.62 23.88,-9.50 23.88,-9.25 23.75,-9.12 23.75,-8.88 23.62,-8.75 23.62,-8.50 23.50,-8.38 23.50,-8.12 23.38,-8 23.38,-7.75 23.25,-7.62 23.25,-7.38 23.12,-7.25 23.12,-7 23,-6.88 23,-6.62 22.88,-6.50 22.88,-6.25 22.75,-6.12 22.75,-5.88 22.50,-5.75 22.25,-6 22.25,-6.25 22.12,-6.38 22.12,-6.62 22,-6.75 22,-7 21.88,-7.12 21.88,-7.38 21.75,-7.50 21.75,-7.75 21.62,-7.88 21.62,-8.12 21.50,-8.25 21.50,-8.50 21.38,-8.62 21.38,-8.88 21.25,-9 21.25,-9.25 21.12,-9.38 21.12,-9.62 21,-9.75 21,-10 20.88,-10.12 20.88,-10.38 20.75,-10.50 20.75,-10.75 20.62,-10.88 20.62,-11.12 20.50,-11.25 20.50,-11.50 20.38,-11.62 20.38,-11.88 20.25,-12 20.25,-12.25 20.12,-12.38 20.12,-12.62 20,-12.75 20,-13 19.88,-13.12 19.88,-13.38 19.75,-13.50 19.75,-13.75 19.62,-13.88 19.62,-14.12 19.50,-14.25 19.50,-14.50 18.50,-17.25 18.12,-17.62 17.50,-17.75 17.38,-17.88 14.25,-17.88 14.12,-17.75Z"/><path id="t28" d="M4.38,-8.12 4.25,-8 3.88,-8 2.25,-7.38 0.75,-5.88 0.25,-4.50 0.25,-2.38 0.75,-1 2.25,0.50 4.25,1.25 5.50,1.25 5.62,1.12 6,1.12 7.62,0.50 9,-0.88 9.50,-2.50 9.62,-2.62 9.62,-4.25 9.50,-4.38 9,-6 7.62,-7.38 6,-8 5.62,-8 5.50,-8.12ZM4.62,-5.62 5.12,-5.62 5.62,-5.38 6.12,-4.88 6.62,-3.50 6.12,-2 5.25,-1.25 4.50,-1.25 3.62,-2.12 3.25,-3.12 3.25,-3.75 3.38,-3.88 3.62,-4.88 4.12,-5.38Z"/></defs>
<g fill="none" stroke-width="2.50" stroke-linejoin="round" stroke-linecap="butt">
<polyline points="117.0,265.3 119.0,260.5 121.0,255.6 123.0,250.4 125.0,245.2 127.0,239.8 129.0,234.4 131.0,229.0 133.0,223.6 135.0,218.3 137.0,213.1 139.0,208.0 141.0,203.1 143.0,198.3 145.0,193.6 147.0,189.1 149.0,184.7 151.0,180.5 153.0,176.4 155.0,172.4 157.0,168.6 159.0,164.9 161.0,161.4 163.0,158.2 165.0,155.0 167.0,151.9 169.0,148.7 171.0,145.2 173.0,141.7 175.0,138.2 177.0,135.0 179.0,131.9 181.0,129.0 183.0,126.4 185.0,123.8 187.0,121.5 189.0,119.2 191.0,117.0 193.0,114.9 195.0,113.0 197.0,111.1 199.0,109.4 201.0,107.7 203.0,106.1 205.0,104.6 207.0,103.3 209.0,102.0 211.0,100.7 213.0,99.6 215.0,98.6 217.0,97.6 219.0,96.7 221.0,95.9 223.0,95.2 225.0,94.5 227.0,93.9 229.0,93.3 231.0,92.9 233.0,92.5 235.0,92.1 237.0,91.8 239.0,91.6 241.0,91.4 243.0,91.3 245.0,91.2 247.0,91.2 249.0,91.2 251.0,91.3 253.0,91.4 255.0,91.5 257.0,91.7 259.0,91.9 261.0,92.2 263.0,92.5 265.0,92.8 267.0,93.2 269.0,93.6 271.0,94.0 273.0,94.5 275.0,95.0 277.0,95.5 279.0,96.0 281.0,96.6 283.0,97.2 285.0,97.9 287.0,98.5 289.0,99.2 291.0,99.9 293.0,100.7 295.0,101.4 297.0,102.2 299.0,103.0 301.0,103.8 303.0,104.6 305.0,105.5 307.0,106.3 309.0,107.2 311.0,108.1 313.0,109.0 315.0,109.9 317.0,110.9 319.0,111.8 321.0,112.8 323.0,113.7 325.0,114.7 327.0,115.7 329.0,116.7 331.0,117.7 333.0,118.8 335.0,119.8 337.0,120.8 339.0,121.9 341.0,122.9 343.0,124.0 345.0,125.1 347.0,126.1 349.0,127.2 351.0,128.3 353.0,129.4 355.0,130.5 357.0,131.6 359.0,132.6 361.0,133.7 363.0,134.8 365.0,135.9 367.0,137.0 369.0,138.1 371.0,139.2 373.0,140.3 375.0,141.4 377.0,142.5 379.0,143.6 381.0,144.6 383.0,145.7 385.0,146.8 387.0,147.9 389.0,148.9 391.0,150.0 393.0,151.1 395.0,152.1 397.0,153.2 399.0,154.2 401.0,155.3 403.0,156.3 405.0,157.3 407.0,158.4 409.0,159.4 411.0,160.4 413.0,161.4 415.0,162.4 417.0,163.4 419.0,164.4 421.0,165.4 423.0,166.4 425.0,167.4 427.0,168.4 429.0,169.4 431.0,170.3 433.0,171.3 435.0,172.3 437.0,173.2 439.0,174.2 441.0,175.1 443.0,176.0 445.0,177.0 447.0,177.9 449.0,178.8 451.0,179.7 453.0,180.6 455.0,181.5 457.0,182.4 459.0,183.3 461.0,184.2 463.0,185.1 465.0,185.9 467.0,186.8 469.0,187.7 471.0,188.5 473.0,189.4 475.0,190.2 477.0,191.0 479.0,191.9 481.0,192.7 483.0,193.5 485.0,194.3 487.0,195.1 489.0,195.9 491.0,196.7 493.0,197.5 495.0,198.3 497.0,199.1 499.0,199.8 501.0,200.6 503.0,201.3 505.0,202.1 507.0,202.8 509.0,203.6 511.0,204.3 513.0,205.0 515.0,205.8 517.0,206.5 519.0,207.2 521.0,207.9 523.0,208.6 525.0,209.3 527.0,209.9 529.0,210.6 531.0,211.3 533.0,211.9 535.0,212.6 537.0,213.2 539.0,213.9 541.0,214.5 543.0,215.2 545.0,215.8 547.0,216.4 549.0,217.0 551.0,217.6 553.0,218.2 555.0,218.8 557.0,219.4 559.0,220.0 561.0,220.6 563.0,221.1 565.0,221.7 567.0,222.2 569.0,222.8 571.0,223.3 573.0,223.9 575.0,224.4 577.0,224.9 579.0,225.4 581.0,225.9 583.0,226.5 585.0,227.0 587.0,227.4 589.0,227.9 591.0,228.4 593.0,228.9 595.0,229.3 597.0,229.8 599.0,230.3 601.0,230.7 603.0,231.1 605.0,231.6 607.0,232.0 609.0,232.4 611.0,232.8 613.0,233.3 615.0,233.7 617.0,234.1 619.0,234.4 621.0,234.8 623.0,235.2 625.0,235.6 627.0,235.9 629.0,236.3 631.0,236.6 633.0,237.0 635.0,237.3 637.0,237.7 639.0,238.0 641.0,238.3 643.0,238.6 645.0,238.9 647.0,239.2 649.0,239.5 651.0,239.8 653.0,240.1 655.0,240.4 657.0,240.6 659.0,240.9 661.0,241.2 663.0,241.4 665.0,241.7 667.0,241.9 669.0,242.2 671.0,242.4 673.0,242.7 675.0,242.9 677.0,243.1 679.0,243.4 681.0,243.6 683.0,243.8 685.0,244.0 687.0,244.3 689.0,244.5 691.0,244.7 693.0,245.0 695.0,245.2 697.0,245.4 699.0,245.7 701.0,245.9 703.0,246.2 705.0,246.4 707.0,246.7 709.0,246.9 711.0,247.2 713.0,247.4 715.0,247.7 717.0,248.0 719.0,248.2 721.0,248.5 723.0,248.8 725.0,249.1" stroke="#000"/>
<polyline points="117.0,265.3 119.0,261.1 121.0,257.1 123.0,253.3 125.0,249.7 127.0,246.3 129.0,243.1 131.0,240.1 133.0,237.2 135.0,234.6 137.0,232.1 139.0,229.7 141.0,227.6 143.0,225.6 145.0,223.8 147.0,222.2 149.0,220.7 151.0,219.5 153.0,218.4 155.0,217.5 157.0,216.8 159.0,216.3 161.0,215.9 163.0,215.7 165.0,215.7 167.0,215.8 169.0,216.0 171.0,216.5 173.0,217.0 175.0,217.7 177.0,218.5 179.0,219.4 181.0,220.4 183.0,221.6 185.0,222.8 187.0,224.2 189.0,225.6 191.0,227.1 193.0,228.7 195.0,230.3 197.0,231.9 199.0,233.6 201.0,235.3 203.0,237.0 205.0,238.8 207.0,240.5 209.0,242.2 211.0,243.9 213.0,245.5 215.0,247.2 217.0,248.8 219.0,250.4 221.0,251.9 223.0,253.5 225.0,255.0 227.0,256.5 229.0,258.0 231.0,259.5 233.0,261.0 235.0,262.5 237.0,264.0 239.0,265.5 241.0,267.1 243.0,268.6 245.0,270.1 247.0,271.6 249.0,273.1 251.0,274.5 253.0,276.0 255.0,277.4 257.0,278.8 259.0,280.1 261.0,281.4 263.0,282.7 265.0,283.9 267.0,285.0 269.0,286.2 271.0,287.2 273.0,288.3 275.0,289.3 277.0,290.2 279.0,291.2 281.0,292.1 283.0,293.0 285.0,293.8 287.0,294.7 289.0,295.5 291.0,296.3 293.0,297.0 295.0,297.7 297.0,298.4 299.0,299.1 301.0,299.7 303.0,300.3 305.0,300.9 307.0,301.5 309.0,302.0 311.0,302.6 313.0,303.1 315.0,303.5 317.0,304.0 319.0,304.4 321.0,304.8 323.0,305.2 325.0,305.5 327.0,305.8 329.0,306.2 331.0,306.4 333.0,306.7 335.0,307.0 337.0,307.2 339.0,307.4 341.0,307.6 343.0,307.7 345.0,307.9 347.0,308.0 349.0,308.1 351.0,308.2 353.0,308.3 355.0,308.3 357.0,308.4 359.0,308.4 361.0,308.4 363.0,308.4 365.0,308.4 367.0,308.3 369.0,308.3 371.0,308.2 373.0,308.2 375.0,308.1 377.0,308.0 379.0,307.9 381.0,307.7 383.0,307.6 385.0,307.5 387.0,307.3 389.0,307.2 391.0,307.0 393.0,306.8 395.0,306.6 397.0,306.4 399.0,306.2 401.0,306.0 403.0,305.8 405.0,305.6 407.0,305.4 409.0,305.1 411.0,304.9 413.0,304.7 415.0,304.4 417.0,304.2 419.0,303.9 421.0,303.7 423.0,303.4 425.0,303.2 427.0,302.9 429.0,302.6 431.0,302.4 433.0,302.1 435.0,301.8 437.0,301.6 439.0,301.3 441.0,301.0 443.0,300.8 445.0,300.5 447.0,300.2 449.0,299.9 451.0,299.6 453.0,299.4 455.0,299.1 457.0,298.8 459.0,298.5 461.0,298.3 463.0,298.0 465.0,297.7 467.0,297.4 469.0,297.2 471.0,296.9 473.0,296.6 475.0,296.3 477.0,296.1 479.0,295.8 481.0,295.5 483.0,295.3 485.0,295.0 487.0,294.8 489.0,294.5 491.0,294.2 493.0,294.0 495.0,293.7 497.0,293.5 499.0,293.2 501.0,293.0 503.0,292.8 505.0,292.5 507.0,292.3 509.0,292.0 511.0,291.8 513.0,291.6 515.0,291.3 517.0,291.1 519.0,290.9 521.0,290.6 523.0,290.4 525.0,290.2 527.0,290.0 529.0,289.7 531.0,289.5 533.0,289.3 535.0,289.0 537.0,288.8 539.0,288.6 541.0,288.3 543.0,288.1 545.0,287.9 547.0,287.7 549.0,287.4 551.0,287.2 553.0,286.9 555.0,286.7 557.0,286.5 559.0,286.2 561.0,286.0 563.0,285.8 565.0,285.5 567.0,285.3 569.0,285.0 571.0,284.8 573.0,284.6 575.0,284.3 577.0,284.1 579.0,283.8 581.0,283.6 583.0,283.4 585.0,283.1 587.0,282.9 589.0,282.7 591.0,282.4 593.0,282.2 595.0,282.0 597.0,281.8 599.0,281.5 601.0,281.3 603.0,281.1 605.0,280.9 607.0,280.7 609.0,280.4 611.0,280.2 613.0,280.0 615.0,279.8 617.0,279.6 619.0,279.4 621.0,279.2 623.0,279.0 625.0,278.8 627.0,278.7 629.0,278.5 631.0,278.3 633.0,278.1 635.0,277.9 637.0,277.8 639.0,277.6 641.0,277.4 643.0,277.3 645.0,277.1 647.0,277.0 649.0,276.8 651.0,276.7 653.0,276.5 655.0,276.4 657.0,276.3 659.0,276.1 661.0,276.0 663.0,275.9 665.0,275.7 667.0,275.6 669.0,275.5 671.0,275.3 673.0,275.2 675.0,275.1 677.0,275.0 679.0,274.9 681.0,274.8 683.0,274.6 685.0,274.5 687.0,274.4 689.0,274.3 691.0,274.2 693.0,274.1 695.0,274.0 697.0,273.9 699.0,273.8 701.0,273.7 703.0,273.6 705.0,273.5 707.0,273.4 709.0,273.3 711.0,273.2 713.0,273.1 715.0,273.0 717.0,272.9 719.0,272.8 721.0,272.7 723.0,272.6 725.0,272.5" stroke="#0ff"/>
<polyline points="117.0,265.3 119.0,261.9 121.0,258.6 123.0,255.5 125.0,252.6 127.0,249.9 129.0,247.5 131.0,245.3 133.0,243.4 135.0,241.9 137.0,240.8 139.0,239.9 141.0,239.4 143.0,239.2 145.0,239.3 147.0,239.7 149.0,240.3 151.0,241.1 153.0,242.1 155.0,243.2 157.0,244.6 159.0,246.1 161.0,247.7 163.0,249.4 165.0,251.2 167.0,253.0 169.0,254.9 171.0,256.8 173.0,258.8 175.0,260.8 177.0,262.8 179.0,264.8 181.0,266.7 183.0,268.7 185.0,270.6 187.0,272.5 189.0,274.3 191.0,276.1 193.0,277.8 195.0,279.4 197.0,280.9 199.0,282.3 201.0,283.6 203.0,284.8 205.0,285.8 207.0,286.7 209.0,287.6 211.0,288.3 213.0,288.9 215.0,289.4 217.0,289.8 219.0,290.1 221.0,290.3 223.0,290.5 225.0,290.5 227.0,290.5 229.0,290.4 231.0,290.2 233.0,289.9 235.0,289.6 237.0,289.3 239.0,288.9 241.0,288.4 243.0,287.9 245.0,287.3 247.0,286.7 249.0,286.1 251.0,285.5 253.0,284.8 255.0,284.1 257.0,283.4 259.0,282.7 261.0,282.0 263.0,281.3 265.0,280.5 267.0,279.8 269.0,279.1 271.0,278.4 273.0,277.7 275.0,277.0 277.0,276.3 279.0,275.6 281.0,274.9 283.0,274.2 285.0,273.5 287.0,272.8 289.0,272.0 291.0,271.3 293.0,270.6 295.0,269.8 297.0,269.1 299.0,268.3 301.0,267.5 303.0,266.7 305.0,265.9 307.0,265.1 309.0,264.3 311.0,263.5 313.0,262.7 315.0,261.9 317.0,261.1 319.0,260.3 321.0,259.5 323.0,258.8 325.0,258.0 327.0,257.3 329.0,256.6 331.0,255.9 333.0,255.2 335.0,254.6 337.0,253.9 339.0,253.4 341.0,252.8 343.0,252.3 345.0,251.8 347.0,251.3 349.0,250.9 351.0,250.4 353.0,250.0 355.0,249.7 357.0,249.3 359.0,249.0 361.0,248.6 363.0,248.3 365.0,248.0 367.0,247.7 369.0,247.5 371.0,247.2 373.0,246.9 375.0,246.7 377.0,246.5 379.0,246.3 381.0,246.1 383.0,245.9 385.0,245.7 387.0,245.5 389.0,245.4 391.0,245.2 393.0,245.1 395.0,245.0 397.0,244.8 399.0,244.7 401.0,244.6 403.0,244.6 405.0,244.5 407.0,244.4 409.0,244.3 411.0,244.3 413.0,244.2 415.0,244.2 417.0,244.2 419.0,244.1 421.0,244.1 423.0,244.1 425.0,244.1 427.0,244.1 429.0,244.1 431.0,244.2 433.0,244.2 435.0,244.2 437.0,244.2 439.0,244.3 441.0,244.3 443.0,244.4 445.0,244.4 447.0,244.5 449.0,244.5 451.0,244.6 453.0,244.7 455.0,244.7 457.0,244.8 459.0,244.9 461.0,245.0 463.0,245.1 465.0,245.2 467.0,245.3 469.0,245.4 471.0,245.5 473.0,245.6 475.0,245.7 477.0,245.8 479.0,245.9 481.0,246.0 483.0,246.1 485.0,246.2 487.0,246.4 489.0,246.5 491.0,246.6 493.0,246.7 495.0,246.9 497.0,247.0 499.0,247.1 501.0,247.2 503.0,247.4 505.0,247.5 507.0,247.6 509.0,247.7 511.0,247.9 513.0,248.0 515.0,248.1 517.0,248.3 519.0,248.4 521.0,248.5 523.0,248.7 525.0,248.8 527.0,248.9 529.0,249.1 531.0,249.2 533.0,249.4 535.0,249.5 537.0,249.6 539.0,249.8 541.0,249.9 543.0,250.0 545.0,250.2 547.0,250.3 549.0,250.5 551.0,250.6 553.0,250.7 555.0,250.9 557.0,251.0 559.0,251.2 561.0,251.3 563.0,251.4 565.0,251.6 567.0,251.7 569.0,251.8 571.0,252.0 573.0,252.1 575.0,252.3 577.0,252.4 579.0,252.5 581.0,252.7 583.0,252.8 585.0,252.9 587.0,253.1 589.0,253.2 591.0,253.4 593.0,253.5 595.0,253.6 597.0,253.8 599.0,253.9 601.0,254.0 603.0,254.2 605.0,254.3 607.0,254.4 609.0,254.6 611.0,254.7 613.0,254.8 615.0,254.9 617.0,255.1 619.0,255.2 621.0,255.3 623.0,255.5 625.0,255.6 627.0,255.7 629.0,255.8 631.0,256.0 633.0,256.1 635.0,256.2 637.0,256.3 639.0,256.4 641.0,256.6 643.0,256.7 645.0,256.8 647.0,256.9 649.0,257.0 651.0,257.1 653.0,257.3 655.0,257.4 657.0,257.5 659.0,257.6 661.0,257.7 663.0,257.8 665.0,257.9 667.0,258.0 669.0,258.1 671.0,258.2 673.0,258.3 675.0,258.4 677.0,258.5 679.0,258.6 681.0,258.7 683.0,258.8 685.0,258.9 687.0,259.0 689.0,259.1 691.0,259.1 693.0,259.2 695.0,259.3 697.0,259.4 699.0,259.5 701.0,259.6 703.0,259.6 705.0,259.7 707.0,259.8 709.0,259.8 711.0,259.9 713.0,260.0 715.0,260.0 717.0,260.1 719.0,260.2 721.0,260.2 723.0,260.3 725.0,260.3" stroke="#f00"/>
<polyline points="117.0,391.4 119.0,392.7 121.0,393.9 123.0,395.1 125.0,396.2 127.0,397.3 129.0,398.4 131.0,399.4 133.0,400.5 135.0,401.5 137.0,402.6 139.0,403.7 141.0,404.9 143.0,406.0 145.0,407.2 147.0,408.5 149.0,409.7 151.0,411.0 153.0,412.3 155.0,413.6 157.0,415.0 159.0,416.4 161.0,417.8 163.0,419.3 165.0,420.8 167.0,422.4 169.0,423.8 171.0,425.2 173.0,426.5 175.0,427.9 177.0,429.3 179.0,430.8 181.0,432.3 183.0,433.8 185.0,435.3 187.0,436.9 189.0,438.5 191.0,440.1 193.0,441.8 195.0,443.4 197.0,445.1 199.0,446.8 201.0,448.4 203.0,450.1 205.0,451.9 207.0,453.6 209.0,455.3 211.0,457.1 213.0,458.8 215.0,460.6 217.0,462.4 219.0,464.1 221.0,465.9 223.0,467.7 225.0,469.5 227.0,471.3 229.0,473.1 231.0,474.9 233.0,476.7 235.0,478.6 237.0,480.4 239.0,482.2 241.0,484.0 243.0,485.8 245.0,487.6 247.0,489.5 249.0,491.3 251.0,493.1 253.0,494.9 255.0,496.7 257.0,498.5 259.0,500.3 261.0,502.1 263.0,503.9 265.0,505.7 267.0,507.4 269.0,509.2 271.0,511.0 273.0,512.8 275.0,514.5 277.0,516.3 279.0,518.0 281.0,519.8 283.0,521.5 285.0,523.2 287.0,524.9 289.0,526.7 291.0,528.4 293.0,530.1 295.0,531.7 297.0,533.4 299.0,535.1 301.0,536.8 303.0,538.4 305.0,540.1 307.0,541.7 309.0,543.3 311.0,544.9 313.0,546.6 315.0,548.2 317.0,549.8 319.0,551.3 321.0,552.9 323.0,554.5 325.0,556.0 327.0,557.6 329.0,559.1 331.0,560.6 333.0,562.1 335.0,563.6 337.0,565.1 339.0,566.6 341.0,568.1 343.0,569.5 345.0,571.0 347.0,572.4 349.0,573.8 351.0,575.3 353.0,576.7 355.0,578.1 357.0,579.4 359.0,580.8 361.0,582.2 363.0,583.5 365.0,584.9 367.0,586.2 369.0,587.5 371.0,588.8 373.0,590.1 375.0,591.4 377.0,592.7 379.0,593.9 381.0,595.2 383.0,596.4 385.0,597.6 387.0,598.8 389.0,600.0 391.0,601.2 393.0,602.4 395.0,603.6 397.0,604.7 399.0,605.9 401.0,607.0 403.0,608.1 405.0,609.2 407.0,610.3 409.0,611.4 411.0,612.5 413.0,613.6 415.0,614.6 417.0,615.7 419.0,616.7 421.0,617.8 423.0,618.8 425.0,619.8 427.0,620.8 429.0,621.8 431.0,622.7 433.0,623.7 435.0,624.6 437.0,625.6 439.0,626.5 441.0,627.5 443.0,628.4 445.0,629.3 447.0,630.2 449.0,631.1 451.0,631.9 453.0,632.8 455.0,633.7 457.0,634.5 459.0,635.4 461.0,636.2 463.0,637.0 465.0,637.8 467.0,638.6 469.0,639.4 471.0,640.2 473.0,641.0 475.0,641.8 477.0,642.5 479.0,643.3 481.0,644.0 483.0,644.8 485.0,645.5 487.0,646.2 489.0,647.0 491.0,647.7 493.0,648.4 495.0,649.1 497.0,649.7 499.0,650.4 501.0,651.1 503.0,651.7 505.0,652.4 507.0,653.0 509.0,653.7 511.0,654.3 513.0,654.9 515.0,655.6 517.0,656.2 519.0,656.8 521.0,657.4 523.0,658.0 525.0,658.5 527.0,659.1 529.0,659.7 531.0,660.2 533.0,660.8 535.0,661.4 537.0,661.9 539.0,662.4 541.0,663.0 543.0,663.5 545.0,664.0 547.0,664.5 549.0,665.0 551.0,665.5 553.0,666.0 555.0,666.5 557.0,667.0 559.0,667.5 561.0,667.9 563.0,668.4 565.0,668.9 567.0,669.3 569.0,669.8 571.0,670.2 573.0,670.6 575.0,671.1 577.0,671.5 579.0,671.9 581.0,672.3 583.0,672.7 585.0,673.1 587.0,673.5 589.0,673.9 591.0,674.3 593.0,674.7 595.0,675.1 597.0,675.4 599.0,675.8 601.0,676.2 603.0,676.5 605.0,676.9 607.0,677.2 609.0,677.6 611.0,677.9 613.0,678.3 615.0,678.6 617.0,678.9 619.0,679.2 621.0,679.6 623.0,679.9 625.0,680.2 627.0,680.5 629.0,680.8 631.0,681.1 633.0,681.4 635.0,681.6 637.0,681.9 639.0,682.2 641.0,682.5 643.0,682.7 645.0,683.0 647.0,683.3 649.0,683.5 651.0,683.8 653.0,684.0 655.0,684.3 657.0,684.5 659.0,684.7 661.0,685.0 663.0,685.2 665.0,685.4 667.0,685.7 669.0,685.9 671.0,686.1 673.0,686.3 675.0,686.5 677.0,686.7 679.0,686.9 681.0,687.2 683.0,687.4 685.0,687.6 687.0,687.8 689.0,688.0 691.0,688.2 693.0,688.4 695.0,688.5 697.0,688.7 699.0,688.9 701.0,689.1 703.0,689.3 705.0,689.5 707.0,689.7 709.0,689.9 711.0,690.1 713.0,690.2 715.0,690.4 717.0,690.6 719.0,690.8 721.0,691.0 723.0,691.2 725.0,691.4" stroke="#000"/>
<polyline points="117.0,391.5 119.0,395.1 121.0,398.8 123.0,402.4 125.0,406.1 127.0,409.8 129.0,413.5 131.0,417.2 133.0,420.8 135.0,424.5 137.0,428.1 139.0,431.7 141.0,435.2 143.0,438.7 145.0,442.2 147.0,445.6 149.0,449.0 151.0,452.3 153.0,455.6 155.0,458.9 157.0,462.1 159.0,465.3 161.0,468.4 163.0,471.5 165.0,474.5 167.0,477.5 169.0,480.6 171.0,483.6 173.0,486.7 175.0,489.8 177.0,492.7 179.0,495.7 181.0,498.6 183.0,501.4 185.0,504.2 187.0,506.9 189.0,509.6 191.0,512.3 193.0,514.9 195.0,517.5 197.0,520.1 199.0,522.6 201.0,525.1 203.0,527.6 205.0,530.0 207.0,532.4 209.0,534.8 211.0,537.1 213.0,539.4 215.0,541.7 217.0,543.9 219.0,546.2 221.0,548.3 223.0,550.5 225.0,552.6 227.0,554.7 229.0,556.8 231.0,558.8 233.0,560.8 235.0,562.8 237.0,564.8 239.0,566.7 241.0,568.6 243.0,570.5 245.0,572.3 247.0,574.2 249.0,576.0 251.0,577.7 253.0,579.5 255.0,581.2 257.0,583.0 259.0,584.6 261.0,586.3 263.0,588.0 265.0,589.6 267.0,591.2 269.0,592.8 271.0,594.3 273.0,595.9 275.0,597.4 277.0,598.9 279.0,600.4 281.0,601.8 283.0,603.3 285.0,604.7 287.0,606.1 289.0,607.4 291.0,608.8 293.0,610.2 295.0,611.5 297.0,612.8 299.0,614.1 301.0,615.3 303.0,616.6 305.0,617.8 307.0,619.0 309.0,620.2 311.0,621.4 313.0,622.6 315.0,623.8 317.0,624.9 319.0,626.0 321.0,627.1 323.0,628.2 325.0,629.3 327.0,630.3 329.0,631.4 331.0,632.4 333.0,633.4 335.0,634.4 337.0,635.4 339.0,636.4 341.0,637.3 343.0,638.3 345.0,639.2 347.0,640.1 349.0,641.0 351.0,641.9 353.0,642.8 355.0,643.7 357.0,644.5 359.0,645.4 361.0,646.2 363.0,647.0 365.0,647.8 367.0,648.6 369.0,649.4 371.0,650.2 373.0,651.0 375.0,651.7 377.0,652.4 379.0,653.2 381.0,653.9 383.0,654.6 385.0,655.3 387.0,656.0 389.0,656.7 391.0,657.4 393.0,658.0 395.0,658.7 397.0,659.3 399.0,660.0 401.0,660.6 403.0,661.2 405.0,661.8 407.0,662.4 409.0,663.0 411.0,663.6 413.0,664.2 415.0,664.7 417.0,665.3 419.0,665.8 421.0,666.4 423.0,666.9 425.0,667.4 427.0,668.0 429.0,668.5 431.0,669.0 433.0,669.5 435.0,670.0 437.0,670.4 439.0,670.9 441.0,671.4 443.0,671.8 445.0,672.3 447.0,672.8 449.0,673.2 451.0,673.6 453.0,674.1 455.0,674.5 457.0,674.9 459.0,675.3 461.0,675.7 463.0,676.1 465.0,676.5 467.0,676.9 469.0,677.3 471.0,677.6 473.0,678.0 475.0,678.4 477.0,678.7 479.0,679.1 481.0,679.4 483.0,679.8 485.0,680.1 487.0,680.4 489.0,680.8 491.0,681.1 493.0,681.4 495.0,681.7 497.0,682.0 499.0,682.3 501.0,682.6 503.0,682.9 505.0,683.2 507.0,683.5 509.0,683.8 511.0,684.0 513.0,684.3 515.0,684.6 517.0,684.9 519.0,685.1 521.0,685.4 523.0,685.6 525.0,685.9 527.0,686.1 529.0,686.4 531.0,686.6 533.0,686.8 535.0,687.1 537.0,687.3 539.0,687.5 541.0,687.7 543.0,687.9 545.0,688.2 547.0,688.4 549.0,688.6 551.0,688.8 553.0,689.0 555.0,689.2 557.0,689.4 559.0,689.6 561.0,689.8 563.0,690.0 565.0,690.1 567.0,690.3 569.0,690.5 571.0,690.7 573.0,690.9 575.0,691.0 577.0,691.2 579.0,691.4 581.0,691.5 583.0,691.7 585.0,691.9 587.0,692.0 589.0,692.2 591.0,692.3 593.0,692.5 595.0,692.6 597.0,692.8 599.0,692.9 601.0,693.1 603.0,693.2 605.0,693.4 607.0,693.5 609.0,693.7 611.0,693.8 613.0,693.9 615.0,694.1 617.0,694.2 619.0,694.3 621.0,694.5 623.0,694.6 625.0,694.7 627.0,694.8 629.0,695.0 631.0,695.1 633.0,695.2 635.0,695.3 637.0,695.5 639.0,695.6 641.0,695.7 643.0,695.8 645.0,695.9 647.0,696.0 649.0,696.1 651.0,696.3 653.0,696.4 655.0,696.5 657.0,696.6 659.0,696.7 661.0,696.8 663.0,696.9 665.0,697.0 667.0,697.1 669.0,697.2 671.0,697.3 673.0,697.4 675.0,697.5 677.0,697.6 679.0,697.7 681.0,697.8 683.0,697.9 685.0,698.0 687.0,698.1 689.0,698.2 691.0,698.2 693.0,698.3 695.0,698.4 697.0,698.5 699.0,698.6 701.0,698.6 703.0,698.7 705.0,698.8 707.0,698.8 709.0,698.9 711.0,699.0 713.0,699.0 715.0,699.1 717.0,699.1 719.0,699.2 721.0,699.2 723.0,699.3 725.0,699.3" stroke="#000"/>
<polyline points="117.0,391.5 119.0,394.1 121.0,396.7 123.0,399.3 125.0,401.9 127.0,404.5 129.0,407.1 131.0,409.6 133.0,412.2 135.0,414.7 137.0,417.3 139.0,419.8 141.0,422.3 143.0,424.8 145.0,427.3 147.0,429.8 149.0,432.3 151.0,434.7 153.0,437.2 155.0,439.6 157.0,442.1 159.0,444.5 161.0,446.9 163.0,449.3 165.0,451.7 167.0,454.1 169.0,456.4 171.0,458.8 173.0,461.1 175.0,463.5 177.0,465.8 179.0,468.1 181.0,470.4 183.0,472.6 185.0,474.9 187.0,477.1 189.0,479.4 191.0,481.6 193.0,483.8 195.0,486.0 197.0,488.2 199.0,490.4 201.0,492.5 203.0,494.7 205.0,496.8 207.0,498.9 209.0,501.0 211.0,503.1 213.0,505.1 215.0,507.2 217.0,509.2 219.0,511.3 221.0,513.3 223.0,515.3 225.0,517.3 227.0,519.2 229.0,521.2 231.0,523.1 233.0,525.1 235.0,527.0 237.0,528.9 239.0,530.8 241.0,532.6 243.0,534.5 245.0,536.3 247.0,538.1 249.0,539.9 251.0,541.7 253.0,543.5 255.0,545.3 257.0,547.0 259.0,548.8 261.0,550.5 263.0,552.2 265.0,553.9 267.0,555.6 269.0,557.2 271.0,558.9 273.0,560.5 275.0,562.1 277.0,563.7 279.0,565.3 281.0,566.9 283.0,568.5 285.0,570.0 287.0,571.6 289.0,573.1 291.0,574.6 293.0,576.1 295.0,577.6 297.0,579.0 299.0,580.5 301.0,581.9 303.0,583.3 305.0,584.8 307.0,586.2 309.0,587.5 311.0,588.9 313.0,590.3 315.0,591.6 317.0,592.9 319.0,594.3 321.0,595.6 323.0,596.8 325.0,598.1 327.0,599.4 329.0,600.6 331.0,601.9 333.0,603.1 335.0,604.3 337.0,605.5 339.0,606.7 341.0,607.9 343.0,609.0 345.0,610.2 347.0,611.3 349.0,612.5 351.0,613.6 353.0,614.7 355.0,615.8 357.0,616.9 359.0,617.9 361.0,619.0 363.0,620.0 365.0,621.1 367.0,622.1 369.0,623.1 371.0,624.1 373.0,625.1 375.0,626.1 377.0,627.0 379.0,628.0 381.0,628.9 383.0,629.9 385.0,630.8 387.0,631.7 389.0,632.6 391.0,633.5 393.0,634.4 395.0,635.2 397.0,636.1 399.0,637.0 401.0,637.8 403.0,638.6 405.0,639.5 407.0,640.3 409.0,641.1 411.0,641.9 413.0,642.6 415.0,643.4 417.0,644.2 419.0,644.9 421.0,645.7 423.0,646.4 425.0,647.2 427.0,647.9 429.0,648.6 431.0,649.3 433.0,650.0 435.0,650.7 437.0,651.4 439.0,652.0 441.0,652.7 443.0,653.4 445.0,654.0 447.0,654.6 449.0,655.3 451.0,655.9 453.0,656.5 455.0,657.1 457.0,657.7 459.0,658.3 461.0,658.9 463.0,659.5 465.0,660.1 467.0,660.6 469.0,661.2 471.0,661.7 473.0,662.3 475.0,662.8 477.0,663.3 479.0,663.9 481.0,664.4 483.0,664.9 485.0,665.4 487.0,665.9 489.0,666.4 491.0,666.9 493.0,667.4 495.0,667.8 497.0,668.3 499.0,668.8 501.0,669.2 503.0,669.7 505.0,670.1 507.0,670.5 509.0,671.0 511.0,671.4 513.0,671.8 515.0,672.2 517.0,672.7 519.0,673.1 521.0,673.5 523.0,673.9 525.0,674.2 527.0,674.6 529.0,675.0 531.0,675.4 533.0,675.8 535.0,676.1 537.0,676.5 539.0,676.8 541.0,677.2 543.0,677.5 545.0,677.9 547.0,678.2 549.0,678.6 551.0,678.9 553.0,679.2 555.0,679.5 557.0,679.9 559.0,680.2 561.0,680.5 563.0,680.8 565.0,681.1 567.0,681.4 569.0,681.7 571.0,682.0 573.0,682.3 575.0,682.5 577.0,682.8 579.0,683.1 581.0,683.4 583.0,683.6 585.0,683.9 587.0,684.2 589.0,684.4 591.0,684.7 593.0,684.9 595.0,685.2 597.0,685.4 599.0,685.7 601.0,685.9 603.0,686.1 605.0,686.4 607.0,686.6 609.0,686.8 611.0,687.0 613.0,687.3 615.0,687.5 617.0,687.7 619.0,687.9 621.0,688.1 623.0,688.3 625.0,688.5 627.0,688.7 629.0,688.9 631.0,689.1 633.0,689.3 635.0,689.5 637.0,689.7 639.0,689.9 641.0,690.1 643.0,690.2 645.0,690.4 647.0,690.6 649.0,690.8 651.0,691.0 653.0,691.1 655.0,691.3 657.0,691.5 659.0,691.6 661.0,691.8 663.0,691.9 665.0,692.1 667.0,692.2 669.0,692.4 671.0,692.6 673.0,692.7 675.0,692.8 677.0,693.0 679.0,693.1 681.0,693.3 683.0,693.4 685.0,693.6 687.0,693.7 689.0,693.8 691.0,694.0 693.0,694.1 695.0,694.2 697.0,694.3 699.0,694.5 701.0,694.6 703.0,694.7 705.0,694.8 707.0,694.9 709.0,695.1 711.0,695.2 713.0,695.3 715.0,695.4 717.0,695.5 719.0,695.6 721.0,695.7 723.0,695.8 725.0,696.0" stroke="#000"/>
<polyline points="117.0,391.4 119.0,392.9 121.0,394.4 123.0,395.9 125.0,397.5 127.0,399.1 129.0,400.8 131.0,402.5 133.0,404.3 135.0,406.1 137.0,407.9 139.0,409.8 141.0,411.7 143.0,413.7 145.0,415.7 147.0,417.7 149.0,419.8 151.0,421.9 153.0,424.0 155.0,426.2 157.0,428.5 159.0,430.8 161.0,433.1 163.0,435.4 165.0,437.8 167.0,440.2 169.0,442.6 171.0,445.1 173.0,447.6 175.0,450.1 177.0,452.6 179.0,455.2 181.0,457.8 183.0,460.4 185.0,463.0 187.0,465.6 189.0,468.2 191.0,470.9 193.0,473.5 195.0,476.2 197.0,478.8 199.0,481.5 201.0,484.1 203.0,486.7 205.0,489.3 207.0,491.9 209.0,494.5 211.0,497.0 213.0,499.6 215.0,502.1 217.0,504.6 219.0,507.1 221.0,509.5 223.0,511.9 225.0,514.3 227.0,516.7 229.0,519.1 231.0,521.5 233.0,523.8 235.0,526.1 237.0,528.5 239.0,530.8 241.0,533.1 243.0,535.3 245.0,537.6 247.0,539.8 249.0,542.1 251.0,544.3 253.0,546.4 255.0,548.6 257.0,550.7 259.0,552.9 261.0,554.9 263.0,557.0 265.0,559.0 267.0,561.0 269.0,563.0 271.0,565.0 273.0,566.9 275.0,568.8 277.0,570.7 279.0,572.5 281.0,574.3 283.0,576.2 285.0,577.9 287.0,579.7 289.0,581.5 291.0,583.2 293.0,584.9 295.0,586.6 297.0,588.2 299.0,589.9 301.0,591.5 303.0,593.1 305.0,594.7 307.0,596.2 309.0,597.7 311.0,599.3 313.0,600.8 315.0,602.2 317.0,603.7 319.0,605.1 321.0,606.5 323.0,607.9 325.0,609.3 327.0,610.7 329.0,612.0 331.0,613.3 333.0,614.6 335.0,615.9 337.0,617.2 339.0,618.4 341.0,619.6 343.0,620.8 345.0,622.0 347.0,623.2 349.0,624.4 351.0,625.5 353.0,626.6 355.0,627.7 357.0,628.8 359.0,629.9 361.0,631.0 363.0,632.0 365.0,633.0 367.0,634.0 369.0,635.0 371.0,636.0 373.0,637.0 375.0,637.9 377.0,638.9 379.0,639.8 381.0,640.7 383.0,641.6 385.0,642.5 387.0,643.4 389.0,644.2 391.0,645.1 393.0,645.9 395.0,646.7 397.0,647.5 399.0,648.3 401.0,649.1 403.0,649.9 405.0,650.6 407.0,651.4 409.0,652.1 411.0,652.9 413.0,653.6 415.0,654.3 417.0,655.0 419.0,655.7 421.0,656.4 423.0,657.0 425.0,657.7 427.0,658.3 429.0,659.0 431.0,659.6 433.0,660.2 435.0,660.8 437.0,661.4 439.0,662.0 441.0,662.6 443.0,663.2 445.0,663.8 447.0,664.3 449.0,664.9 451.0,665.4 453.0,666.0 455.0,666.5 457.0,667.0 459.0,667.5 461.0,668.1 463.0,668.6 465.0,669.1 467.0,669.5 469.0,670.0 471.0,670.5 473.0,671.0 475.0,671.4 477.0,671.9 479.0,672.3 481.0,672.8 483.0,673.2 485.0,673.6 487.0,674.1 489.0,674.5 491.0,674.9 493.0,675.3 495.0,675.7 497.0,676.1 499.0,676.5 501.0,676.9 503.0,677.3 505.0,677.7 507.0,678.0 509.0,678.4 511.0,678.8 513.0,679.1 515.0,679.5 517.0,679.8 519.0,680.1 521.0,680.5 523.0,680.8 525.0,681.1 527.0,681.5 529.0,681.8 531.0,682.1 533.0,682.4 535.0,682.7 537.0,683.0 539.0,683.3 541.0,683.6 543.0,683.9 545.0,684.1 547.0,684.4 549.0,684.7 551.0,684.9 553.0,685.2 555.0,685.5 557.0,685.7 559.0,686.0 561.0,686.2 563.0,686.4 565.0,686.7 567.0,686.9 569.0,687.1 571.0,687.4 573.0,687.6 575.0,687.8 577.0,688.0 579.0,688.2 581.0,688.4 583.0,688.6 585.0,688.8 587.0,689.0 589.0,689.2 591.0,689.4 593.0,689.6 595.0,689.8 597.0,690.0 599.0,690.1 601.0,690.3 603.0,690.5 605.0,690.7 607.0,690.8 609.0,691.0 611.0,691.2 613.0,691.3 615.0,691.5 617.0,691.6 619.0,691.8 621.0,692.0 623.0,692.1 625.0,692.3 627.0,692.4 629.0,692.6 631.0,692.7 633.0,692.8 635.0,693.0 637.0,693.1 639.0,693.3 641.0,693.4 643.0,693.5 645.0,693.7 647.0,693.8 649.0,693.9 651.0,694.1 653.0,694.2 655.0,694.3 657.0,694.5 659.0,694.6 661.0,694.7 663.0,694.8 665.0,694.9 667.0,695.1 669.0,695.2 671.0,695.3 673.0,695.4 675.0,695.5 677.0,695.6 679.0,695.8 681.0,695.9 683.0,696.0 685.0,696.1 687.0,696.2 689.0,696.3 691.0,696.4 693.0,696.5 695.0,696.6 697.0,696.7 699.0,696.8 701.0,696.9 703.0,697.0 705.0,697.1 707.0,697.1 709.0,697.2 711.0,697.3 713.0,697.4 715.0,697.5 717.0,697.6 719.0,697.7 721.0,697.7 723.0,697.8 725.0,697.9" stroke="#0ff"/>
<polyline points="117.0,391.6 119.0,395.2 121.0,398.8 123.0,402.4 125.0,405.9 127.0,409.3 129.0,412.7 131.0,416.0 133.0,419.3 135.0,422.5 137.0,425.7 139.0,428.8 141.0,431.8 143.0,434.8 145.0,437.8 147.0,440.7 149.0,443.5 151.0,446.3 153.0,449.0 155.0,451.7 157.0,454.3 159.0,456.9 161.0,459.4 163.0,461.8 165.0,464.2 167.0,466.6 169.0,468.9 171.0,471.1 173.0,473.3 175.0,475.5 177.0,477.6 179.0,479.7 181.0,481.7 183.0,483.7 185.0,485.6 187.0,487.5 189.0,489.4 191.0,491.3 193.0,493.1 195.0,494.9 197.0,496.6 199.0,498.4 201.0,500.1 203.0,501.8 205.0,503.5 207.0,505.2 209.0,506.9 211.0,508.5 213.0,510.2 215.0,511.8 217.0,513.4 219.0,515.1 221.0,516.7 223.0,518.3 225.0,519.9 227.0,521.5 229.0,523.1 231.0,524.6 233.0,526.2 235.0,527.7 237.0,529.2 239.0,530.7 241.0,532.2 243.0,533.7 245.0,535.2 247.0,536.6 249.0,538.0 251.0,539.5 253.0,540.9 255.0,542.3 257.0,543.7 259.0,545.1 261.0,546.5 263.0,547.9 265.0,549.3 267.0,550.7 269.0,552.0 271.0,553.4 273.0,554.8 275.0,556.2 277.0,557.5 279.0,558.9 281.0,560.2 283.0,561.6 285.0,562.9 287.0,564.2 289.0,565.6 291.0,566.9 293.0,568.2 295.0,569.5 297.0,570.8 299.0,572.0 301.0,573.3 303.0,574.6 305.0,575.9 307.0,577.1 309.0,578.4 311.0,579.6 313.0,580.8 315.0,582.1 317.0,583.3 319.0,584.5 321.0,585.7 323.0,586.9 325.0,588.1 327.0,589.2 329.0,590.4 331.0,591.6 333.0,592.7 335.0,593.9 337.0,595.0 339.0,596.2 341.0,597.3 343.0,598.4 345.0,599.5 347.0,600.7 349.0,601.8 351.0,602.8 353.0,603.9 355.0,605.0 357.0,606.1 359.0,607.1 361.0,608.2 363.0,609.2 365.0,610.3 367.0,611.3 369.0,612.3 371.0,613.3 373.0,614.4 375.0,615.4 377.0,616.3 379.0,617.3 381.0,618.3 383.0,619.3 385.0,620.2 387.0,621.2 389.0,622.1 391.0,623.1 393.0,624.0 395.0,624.9 397.0,625.8 399.0,626.7 401.0,627.6 403.0,628.5 405.0,629.4 407.0,630.2 409.0,631.1 411.0,632.0 413.0,632.8 415.0,633.6 417.0,634.5 419.0,635.3 421.0,636.1 423.0,636.9 425.0,637.7 427.0,638.5 429.0,639.3 431.0,640.0 433.0,640.8 435.0,641.6 437.0,642.3 439.0,643.0 441.0,643.8 443.0,644.5 445.0,645.2 447.0,645.9 449.0,646.6 451.0,647.3 453.0,648.0 455.0,648.7 457.0,649.3 459.0,650.0 461.0,650.7 463.0,651.3 465.0,652.0 467.0,652.6 469.0,653.2 471.0,653.8 473.0,654.5 475.0,655.1 477.0,655.7 479.0,656.2 481.0,656.8 483.0,657.4 485.0,658.0 487.0,658.5 489.0,659.1 491.0,659.6 493.0,660.2 495.0,660.7 497.0,661.3 499.0,661.8 501.0,662.3 503.0,662.8 505.0,663.3 507.0,663.8 509.0,664.3 511.0,664.8 513.0,665.3 515.0,665.7 517.0,666.2 519.0,666.7 521.0,667.1 523.0,667.6 525.0,668.0 527.0,668.5 529.0,668.9 531.0,669.4 533.0,669.8 535.0,670.2 537.0,670.6 539.0,671.0 541.0,671.5 543.0,671.9 545.0,672.3 547.0,672.7 549.0,673.1 551.0,673.4 553.0,673.8 555.0,674.2 557.0,674.6 559.0,675.0 561.0,675.3 563.0,675.7 565.0,676.1 567.0,676.4 569.0,676.8 571.0,677.1 573.0,677.5 575.0,677.8 577.0,678.1 579.0,678.5 581.0,678.8 583.0,679.1 585.0,679.5 587.0,679.8 589.0,680.1 591.0,680.4 593.0,680.7 595.0,681.0 597.0,681.3 599.0,681.6 601.0,681.9 603.0,682.2 605.0,682.5 607.0,682.8 609.0,683.1 611.0,683.3 613.0,683.6 615.0,683.9 617.0,684.2 619.0,684.4 621.0,684.7 623.0,684.9 625.0,685.2 627.0,685.4 629.0,685.7 631.0,685.9 633.0,686.1 635.0,686.4 637.0,686.6 639.0,686.8 641.0,687.1 643.0,687.3 645.0,687.5 647.0,687.7 649.0,687.9 651.0,688.1 653.0,688.3 655.0,688.5 657.0,688.7 659.0,688.9 661.0,689.1 663.0,689.3 665.0,689.5 667.0,689.7 669.0,689.9 671.0,690.1 673.0,690.3 675.0,690.4 677.0,690.6 679.0,690.8 681.0,690.9 683.0,691.1 685.0,691.3 687.0,691.4 689.0,691.6 691.0,691.8 693.0,691.9 695.0,692.1 697.0,692.2 699.0,692.4 701.0,692.5 703.0,692.7 705.0,692.8 707.0,693.0 709.0,693.1 711.0,693.3 713.0,693.4 715.0,693.5 717.0,693.7 719.0,693.8 721.0,693.9 723.0,694.1 725.0,694.2" stroke="#0ff"/>
<polyline points="117.0,391.4 119.0,393.1 121.0,394.8 123.0,396.5 125.0,398.3 127.0,400.1 129.0,402.0 131.0,404.0 133.0,406.0 135.0,408.1 137.0,410.3 139.0,412.6 141.0,415.0 143.0,417.5 145.0,420.0 147.0,422.6 149.0,425.2 151.0,427.9 153.0,430.7 155.0,433.4 157.0,436.2 159.0,439.1 161.0,441.9 163.0,444.8 165.0,447.7 167.0,450.6 169.0,453.5 171.0,456.4 173.0,459.3 175.0,462.1 177.0,465.0 179.0,467.9 181.0,470.7 183.0,473.5 185.0,476.3 187.0,479.1 189.0,481.9 191.0,484.6 193.0,487.2 195.0,489.9 197.0,492.5 199.0,495.1 201.0,497.6 203.0,500.0 205.0,502.5 207.0,504.8 209.0,507.2 211.0,509.4 213.0,511.7 215.0,513.9 217.0,516.0 219.0,518.1 221.0,520.2 223.0,522.3 225.0,524.3 227.0,526.2 229.0,528.1 231.0,530.0 233.0,531.9 235.0,533.7 237.0,535.5 239.0,537.3 241.0,539.0 243.0,540.7 245.0,542.4 247.0,544.1 249.0,545.7 251.0,547.3 253.0,548.9 255.0,550.5 257.0,552.0 259.0,553.6 261.0,555.1 263.0,556.6 265.0,558.1 267.0,559.6 269.0,561.0 271.0,562.5 273.0,563.9 275.0,565.4 277.0,566.8 279.0,568.2 281.0,569.5 283.0,570.9 285.0,572.3 287.0,573.6 289.0,574.9 291.0,576.2 293.0,577.5 295.0,578.8 297.0,580.0 299.0,581.3 301.0,582.5 303.0,583.7 305.0,584.9 307.0,586.1 309.0,587.2 311.0,588.4 313.0,589.5 315.0,590.6 317.0,591.7 319.0,592.8 321.0,593.9 323.0,595.0 325.0,596.0 327.0,597.1 329.0,598.1 331.0,599.2 333.0,600.2 335.0,601.3 337.0,602.3 339.0,603.3 341.0,604.3 343.0,605.4 345.0,606.4 347.0,607.4 349.0,608.4 351.0,609.4 353.0,610.4 355.0,611.4 357.0,612.3 359.0,613.3 361.0,614.3 363.0,615.2 365.0,616.2 367.0,617.1 369.0,618.0 371.0,619.0 373.0,619.9 375.0,620.8 377.0,621.7 379.0,622.6 381.0,623.5 383.0,624.4 385.0,625.2 387.0,626.1 389.0,627.0 391.0,627.8 393.0,628.7 395.0,629.5 397.0,630.3 399.0,631.2 401.0,632.0 403.0,632.8 405.0,633.6 407.0,634.4 409.0,635.2 411.0,635.9 413.0,636.7 415.0,637.5 417.0,638.2 419.0,639.0 421.0,639.7 423.0,640.5 425.0,641.2 427.0,641.9 429.0,642.6 431.0,643.3 433.0,644.0 435.0,644.7 437.0,645.4 439.0,646.1 441.0,646.8 443.0,647.5 445.0,648.1 447.0,648.8 449.0,649.4 451.0,650.1 453.0,650.7 455.0,651.3 457.0,651.9 459.0,652.6 461.0,653.2 463.0,653.8 465.0,654.4 467.0,655.0 469.0,655.6 471.0,656.1 473.0,656.7 475.0,657.3 477.0,657.8 479.0,658.4 481.0,658.9 483.0,659.5 485.0,660.0 487.0,660.6 489.0,661.1 491.0,661.6 493.0,662.1 495.0,662.6 497.0,663.1 499.0,663.6 501.0,664.1 503.0,664.6 505.0,665.1 507.0,665.5 509.0,666.0 511.0,666.5 513.0,666.9 515.0,667.4 517.0,667.8 519.0,668.3 521.0,668.7 523.0,669.2 525.0,669.6 527.0,670.0 529.0,670.4 531.0,670.8 533.0,671.3 535.0,671.7 537.0,672.1 539.0,672.5 541.0,672.8 543.0,673.2 545.0,673.6 547.0,674.0 549.0,674.4 551.0,674.7 553.0,675.1 555.0,675.5 557.0,675.8 559.0,676.2 561.0,676.5 563.0,676.9 565.0,677.2 567.0,677.5 569.0,677.9 571.0,678.2 573.0,678.5 575.0,678.8 577.0,679.2 579.0,679.5 581.0,679.8 583.0,680.1 585.0,680.4 587.0,680.7 589.0,681.0 591.0,681.3 593.0,681.6 595.0,681.9 597.0,682.1 599.0,682.4 601.0,682.7 603.0,683.0 605.0,683.2 607.0,683.5 609.0,683.8 611.0,684.0 613.0,684.3 615.0,684.5 617.0,684.8 619.0,685.0 621.0,685.3 623.0,685.5 625.0,685.8 627.0,686.0 629.0,686.2 631.0,686.5 633.0,686.7 635.0,686.9 637.0,687.1 639.0,687.4 641.0,687.6 643.0,687.8 645.0,688.0 647.0,688.2 649.0,688.4 651.0,688.6 653.0,688.8 655.0,689.0 657.0,689.2 659.0,689.4 661.0,689.6 663.0,689.8 665.0,690.0 667.0,690.2 669.0,690.3 671.0,690.5 673.0,690.7 675.0,690.9 677.0,691.0 679.0,691.2 681.0,691.4 683.0,691.5 685.0,691.7 687.0,691.9 689.0,692.0 691.0,692.2 693.0,692.3 695.0,692.5 697.0,692.6 699.0,692.8 701.0,692.9 703.0,693.1 705.0,693.2 707.0,693.4 709.0,693.5 711.0,693.6 713.0,693.8 715.0,693.9 717.0,694.0 719.0,694.1 721.0,694.3 723.0,694.4 725.0,694.5" stroke="#f00"/>
<polyline points="117.0,391.5 119.0,394.9 121.0,398.3 123.0,401.5 125.0,404.8 127.0,408.0 129.0,411.1 131.0,414.1 133.0,417.1 135.0,420.0 137.0,422.8 139.0,425.5 141.0,428.1 143.0,430.7 145.0,433.2 147.0,435.6 149.0,437.9 151.0,440.2 153.0,442.4 155.0,444.6 157.0,446.7 159.0,448.8 161.0,450.9 163.0,452.9 165.0,454.9 167.0,456.9 169.0,458.8 171.0,460.7 173.0,462.6 175.0,464.5 177.0,466.4 179.0,468.2 181.0,470.1 183.0,471.9 185.0,473.8 187.0,475.6 189.0,477.4 191.0,479.2 193.0,481.1 195.0,482.9 197.0,484.8 199.0,486.6 201.0,488.5 203.0,490.4 205.0,492.2 207.0,494.1 209.0,496.1 211.0,498.0 213.0,499.9 215.0,501.9 217.0,503.8 219.0,505.8 221.0,507.7 223.0,509.7 225.0,511.7 227.0,513.7 229.0,515.6 231.0,517.6 233.0,519.6 235.0,521.6 237.0,523.6 239.0,525.5 241.0,527.5 243.0,529.5 245.0,531.4 247.0,533.4 249.0,535.3 251.0,537.3 253.0,539.2 255.0,541.1 257.0,543.0 259.0,544.9 261.0,546.8 263.0,548.7 265.0,550.5 267.0,552.4 269.0,554.2 271.0,556.0 273.0,557.8 275.0,559.6 277.0,561.3 279.0,563.1 281.0,564.8 283.0,566.5 285.0,568.2 287.0,569.9 289.0,571.6 291.0,573.3 293.0,575.0 295.0,576.6 297.0,578.2 299.0,579.9 301.0,581.5 303.0,583.1 305.0,584.7 307.0,586.2 309.0,587.8 311.0,589.3 313.0,590.9 315.0,592.4 317.0,593.9 319.0,595.4 321.0,596.9 323.0,598.3 325.0,599.8 327.0,601.2 329.0,602.6 331.0,604.0 333.0,605.4 335.0,606.8 337.0,608.1 339.0,609.4 341.0,610.7 343.0,612.0 345.0,613.3 347.0,614.5 349.0,615.7 351.0,616.9 353.0,618.1 355.0,619.3 357.0,620.5 359.0,621.6 361.0,622.7 363.0,623.9 365.0,625.0 367.0,626.1 369.0,627.1 371.0,628.2 373.0,629.2 375.0,630.3 377.0,631.3 379.0,632.3 381.0,633.3 383.0,634.2 385.0,635.2 387.0,636.2 389.0,637.1 391.0,638.0 393.0,638.9 395.0,639.8 397.0,640.7 399.0,641.6 401.0,642.5 403.0,643.3 405.0,644.2 407.0,645.0 409.0,645.8 411.0,646.6 413.0,647.4 415.0,648.2 417.0,649.0 419.0,649.7 421.0,650.5 423.0,651.2 425.0,651.9 427.0,652.7 429.0,653.4 431.0,654.1 433.0,654.8 435.0,655.4 437.0,656.1 439.0,656.8 441.0,657.4 443.0,658.1 445.0,658.7 447.0,659.3 449.0,660.0 451.0,660.6 453.0,661.2 455.0,661.8 457.0,662.3 459.0,662.9 461.0,663.5 463.0,664.0 465.0,664.6 467.0,665.1 469.0,665.7 471.0,666.2 473.0,666.7 475.0,667.2 477.0,667.7 479.0,668.2 481.0,668.7 483.0,669.2 485.0,669.7 487.0,670.2 489.0,670.6 491.0,671.1 493.0,671.5 495.0,672.0 497.0,672.4 499.0,672.9 501.0,673.3 503.0,673.7 505.0,674.1 507.0,674.5 509.0,674.9 511.0,675.3 513.0,675.7 515.0,676.1 517.0,676.5 519.0,676.9 521.0,677.2 523.0,677.6 525.0,678.0 527.0,678.3 529.0,678.7 531.0,679.0 533.0,679.4 535.0,679.7 537.0,680.0 539.0,680.4 541.0,680.7 543.0,681.0 545.0,681.3 547.0,681.6 549.0,681.9 551.0,682.2 553.0,682.5 555.0,682.8 557.0,683.1 559.0,683.4 561.0,683.7 563.0,683.9 565.0,684.2 567.0,684.5 569.0,684.7 571.0,685.0 573.0,685.2 575.0,685.5 577.0,685.7 579.0,686.0 581.0,686.2 583.0,686.5 585.0,686.7 587.0,686.9 589.0,687.2 591.0,687.4 593.0,687.6 595.0,687.8 597.0,688.0 599.0,688.3 601.0,688.5 603.0,688.7 605.0,688.9 607.0,689.1 609.0,689.3 611.0,689.5 613.0,689.7 615.0,689.8 617.0,690.0 619.0,690.2 621.0,690.4 623.0,690.6 625.0,690.7 627.0,690.9 629.0,691.1 631.0,691.3 633.0,691.4 635.0,691.6 637.0,691.7 639.0,691.9 641.0,692.1 643.0,692.2 645.0,692.4 647.0,692.5 649.0,692.7 651.0,692.8 653.0,693.0 655.0,693.1 657.0,693.2 659.0,693.4 661.0,693.5 663.0,693.7 665.0,693.8 667.0,693.9 669.0,694.1 671.0,694.2 673.0,694.3 675.0,694.4 677.0,694.6 679.0,694.7 681.0,694.8 683.0,694.9 685.0,695.0 687.0,695.1 689.0,695.3 691.0,695.4 693.0,695.5 695.0,695.6 697.0,695.7 699.0,695.8 701.0,695.9 703.0,696.0 705.0,696.1 707.0,696.2 709.0,696.3 711.0,696.4 713.0,696.5 715.0,696.6 717.0,696.7 719.0,696.8 721.0,696.9 723.0,697.0 725.0,697.1" stroke="#f00"/>
</g>
<path d="M90.43,43.20 L90.43,51.80 M90.43,369.20 L90.43,386.40 M90.43,711.60 L90.43,703.00 M117.30,43.20 L117.30,60.40 M117.30,360.60 L117.30,395.00 M117.30,711.60 L117.30,694.40 M144.17,43.20 L144.17,51.80 M144.17,369.20 L144.17,386.40 M144.17,711.60 L144.17,703.00 M171.05,43.20 L171.05,51.80 M171.05,369.20 L171.05,386.40 M171.05,711.60 L171.05,703.00 M197.92,43.20 L197.92,51.80 M197.92,369.20 L197.92,386.40 M197.92,711.60 L197.92,703.00 M224.80,43.20 L224.80,51.80 M224.80,369.20 L224.80,386.40 M224.80,711.60 L224.80,703.00 M251.67,43.20 L251.67,60.40 M251.67,360.60 L251.67,395.00 M251.67,711.60 L251.67,694.40 M278.54,43.20 L278.54,51.80 M278.54,369.20 L278.54,386.40 M278.54,711.60 L278.54,703.00 M305.42,43.20 L305.42,51.80 M305.42,369.20 L305.42,386.40 M305.42,711.60 L305.42,703.00 M332.29,43.20 L332.29,51.80 M332.29,369.20 L332.29,386.40 M332.29,711.60 L332.29,703.00 M359.17,43.20 L359.17,51.80 M359.17,369.20 L359.17,386.40 M359.17,711.60 L359.17,703.00 M386.04,43.20 L386.04,60.40 M386.04,360.60 L386.04,395.00 M386.04,711.60 L386.04,694.40 M412.91,43.20 L412.91,51.80 M412.91,369.20 L412.91,386.40 M412.91,711.60 L412.91,703.00 M439.79,43.20 L439.79,51.80 M439.79,369.20 L439.79,386.40 M439.79,711.60 L439.79,703.00 M466.66,43.20 L466.66,51.80 M466.66,369.20 L466.66,386.40 M466.66,711.60 L466.66,703.00 M493.54,43.20 L493.54,51.80 M493.54,369.20 L493.54,386.40 M493.54,711.60 L493.54,703.00 M520.41,43.20 L520.41,60.40 M520.41,360.60 L520.41,395.00 M520.41,711.60 L520.41,694.40 M547.28,43.20 L547.28,51.80 M547.28,369.20 L547.28,386.40 M547.28,711.60 L547.28,703.00 M574.16,43.20 L574.16,51.80 M574.16,369.20 L574.16,386.40 M574.16,711.60 L574.16,703.00 M601.03,43.20 L601.03,51.80 M601.03,369.20 L601.03,386.40 M601.03,711.60 L601.03,703.00 M627.91,43.20 L627.91,51.80 M627.91,369.20 L627.91,386.40 M627.91,711.60 L627.91,703.00 M654.78,43.20 L654.78,60.40 M654.78,360.60 L654.78,395.00 M654.78,711.60 L654.78,694.40 M681.65,43.20 L681.65,51.80 M681.65,369.20 L681.65,386.40 M681.65,711.60 L681.65,703.00 M708.53,43.20 L708.53,51.80 M708.53,369.20 L708.53,386.40 M708.53,711.60 L708.53,703.00 M735.40,43.20 L735.40,51.80 M735.40,369.20 L735.40,386.40 M735.40,711.60 L735.40,703.00 M87.10,358.75 L95.70,358.75 M755.50,358.75 L746.90,358.75 M87.10,340.10 L104.30,340.10 M755.50,340.10 L738.30,340.10 M87.10,321.45 L95.70,321.45 M755.50,321.45 L746.90,321.45 M87.10,302.80 L95.70,302.80 M755.50,302.80 L746.90,302.80 M87.10,284.15 L95.70,284.15 M755.50,284.15 L746.90,284.15 M87.10,265.50 L104.30,265.50 M755.50,265.50 L738.30,265.50 M87.10,246.85 L95.70,246.85 M755.50,246.85 L746.90,246.85 M87.10,228.20 L95.70,228.20 M755.50,228.20 L746.90,228.20 M87.10,209.55 L95.70,209.55 M755.50,209.55 L746.90,209.55 M87.10,190.90 L104.30,190.90 M755.50,190.90 L738.30,190.90 M87.10,172.25 L95.70,172.25 M755.50,172.25 L746.90,172.25 M87.10,153.60 L95.70,153.60 M755.50,153.60 L746.90,153.60 M87.10,134.95 L95.70,134.95 M755.50,134.95 L746.90,134.95 M87.10,116.30 L104.30,116.30 M755.50,116.30 L738.30,116.30 M87.10,97.65 L95.70,97.65 M755.50,97.65 L746.90,97.65 M87.10,79.00 L95.70,79.00 M755.50,79.00 L746.90,79.00 M87.10,60.35 L95.70,60.35 M755.50,60.35 L746.90,60.35 M87.10,704.00 L104.30,704.00 M755.50,704.00 L738.30,704.00 M87.10,683.17 L95.70,683.17 M755.50,683.17 L746.90,683.17 M87.10,662.33 L95.70,662.33 M755.50,662.33 L746.90,662.33 M87.10,641.50 L95.70,641.50 M755.50,641.50 L746.90,641.50 M87.10,620.66 L95.70,620.66 M755.50,620.66 L746.90,620.66 M87.10,599.83 L104.30,599.83 M755.50,599.83 L738.30,599.83 M87.10,579.00 L95.70,579.00 M755.50,579.00 L746.90,579.00 M87.10,558.16 L95.70,558.16 M755.50,558.16 L746.90,558.16 M87.10,537.33 L95.70,537.33 M755.50,537.33 L746.90,537.33 M87.10,516.49 L95.70,516.49 M755.50,516.49 L746.90,516.49 M87.10,495.66 L104.30,495.66 M755.50,495.66 L738.30,495.66 M87.10,474.83 L95.70,474.83 M755.50,474.83 L746.90,474.83 M87.10,453.99 L95.70,453.99 M755.50,453.99 L746.90,453.99 M87.10,433.16 L95.70,433.16 M755.50,433.16 L746.90,433.16 M87.10,412.32 L95.70,412.32 M755.50,412.32 L746.90,412.32 M87.10,391.49 L104.30,391.49 M755.50,391.49 L738.30,391.49" fill="none" stroke="#000" stroke-width="2.30"/>
<path d="M87.10,43.20 H755.50 V711.60 H87.10 Z M87.10,377.80 H755.50" fill="none" stroke="#000" stroke-width="2.30" stroke-linejoin="miter"/>
<g fill-rule="evenodd"><use href="#t0" x="413.68" y="101.00" fill="#000"/>
<use href="#t1" x="499.90" y="108.50" fill="#000"/>
<use href="#t2" x="522.77" y="101.00" fill="#000"/>
<use href="#t1" x="628.10" y="108.50" fill="#000"/>
<use href="#t0" x="413.68" y="130.70" fill="#0ff"/>
<use href="#t3" x="500.00" y="138.20" fill="#0ff"/>
<use href="#t2" x="522.77" y="130.70" fill="#0ff"/>
<use href="#t3" x="628.20" y="138.20" fill="#0ff"/>
<use href="#t0" x="413.68" y="160.40" fill="#f00"/>
<use href="#t4" x="499.90" y="167.90" fill="#f00"/>
<use href="#t2" x="522.77" y="160.40" fill="#f00"/>
<use href="#t4" x="628.10" y="167.90" fill="#f00"/>
<use href="#t5" x="345.55" y="433.80" fill="#000"/>
<use href="#t6" x="600.73" y="441.30" fill="#000"/>
<use href="#t7" x="624.40" y="433.80" fill="#000"/>
<use href="#t6" x="657.42" y="441.30" fill="#000"/>
<use href="#t5" x="345.55" y="464.60" fill="#0ff"/>
<use href="#t8" x="600.83" y="472.10" fill="#0ff"/>
<use href="#t7" x="624.40" y="464.60" fill="#0ff"/>
<use href="#t8" x="657.52" y="472.10" fill="#0ff"/>
<use href="#t5" x="345.55" y="495.40" fill="#f00"/>
<use href="#t9" x="600.73" y="502.90" fill="#f00"/>
<use href="#t7" x="624.40" y="495.40" fill="#f00"/>
<use href="#t9" x="657.42" y="502.90" fill="#f00"/>
<use href="#t10" x="109.36" y="743.50" fill="#000"/>
<use href="#t11" x="243.30" y="743.50" fill="#000"/>
<use href="#t12" x="378.10" y="743.50" fill="#000"/>
<use href="#t13" x="512.47" y="743.50" fill="#000"/>
<use href="#t14" x="646.78" y="743.50" fill="#000"/>
<use href="#t15" x="367.16" y="774.60" fill="#000"/>
<use href="#t16" transform="translate(72.60,116.30) rotate(-90) translate(-20.12,0)" fill="#000"/>
<use href="#t17" transform="translate(72.60,190.90) rotate(-90) translate(-19.69,0)" fill="#000"/>
<use href="#t18" transform="translate(72.60,265.50) rotate(-90) translate(-7.94,0)" fill="#000"/>
<use href="#t19" transform="translate(72.60,340.10) rotate(-90) translate(-30.31,0)" fill="#000"/>
<use href="#t20" transform="translate(72.60,391.49) rotate(-90) translate(-7.94,0)" fill="#000"/>
<use href="#t21" transform="translate(72.60,495.66) rotate(-90) translate(-7.94,0)" fill="#000"/>
<use href="#t22" transform="translate(72.60,599.83) rotate(-90) translate(-8.31,0)" fill="#000"/>
<use href="#t18" transform="translate(72.60,704.00) rotate(-90) translate(-7.94,0)" fill="#000"/>
<use href="#t23" transform="translate(24.00,459.00) rotate(-90) translate(0.00,0.00)" fill="#000"/>
<use href="#t24" transform="translate(24.00,459.00) rotate(-90) translate(18.38,7.50)" fill="#000"/>
<use href="#t25" transform="translate(24.00,459.00) rotate(-90) translate(52.33,0.00)" fill="#000"/>
<use href="#t26" transform="translate(24.00,459.00) rotate(-90) translate(101.46,-8.50)" fill="#000"/>
<use href="#t27" transform="translate(24.00,459.00) rotate(-90) translate(119.01,0.00)" fill="#000"/>
<use href="#t28" transform="translate(24.00,459.00) rotate(-90) translate(151.51,6.50)" fill="#000"/></g>
</svg>
</body></html>
